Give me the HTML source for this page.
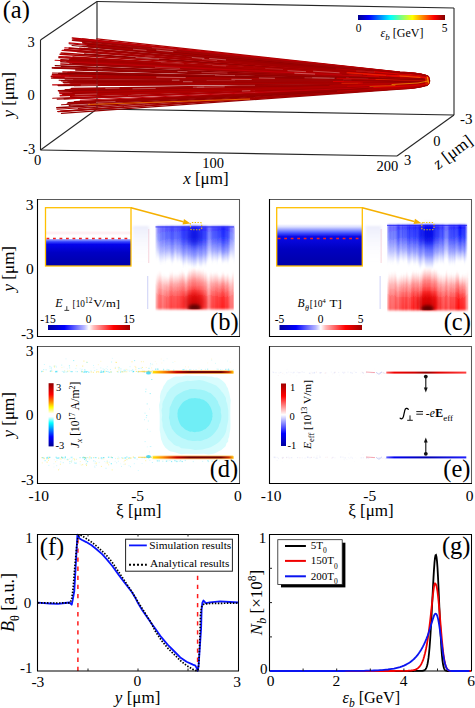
<!DOCTYPE html><html><head><meta charset="utf-8"><style>html,body{margin:0;padding:0;background:#fff;width:475px;height:708px;overflow:hidden}svg{display:block;font-family:"Liberation Serif",serif}</style></head><body><svg width="475" height="708" viewBox="0 0 475 708" font-family="Liberation Serif, serif">
<rect width="475" height="708" fill="#fff"/>
<text x="2.7" y="18" font-size="24.5" text-anchor="start" >(a)</text>
<line x1="40.5" y1="40" x2="40.5" y2="150" stroke="#262626" stroke-width="1.1"/>
<line x1="40.5" y1="40" x2="97" y2="1.5" stroke="#262626" stroke-width="1.1"/>
<line x1="97" y1="1.5" x2="454" y2="8" stroke="#262626" stroke-width="1.1"/>
<line x1="454" y1="8" x2="454" y2="115" stroke="#262626" stroke-width="1.1"/>
<line x1="97" y1="1.5" x2="97" y2="109" stroke="#262626" stroke-width="1.1"/>
<line x1="97" y1="109" x2="454" y2="115" stroke="#262626" stroke-width="1.1"/>
<line x1="40.5" y1="150" x2="97" y2="109" stroke="#262626" stroke-width="1.1"/>
<line x1="40.5" y1="150" x2="397" y2="156" stroke="#262626" stroke-width="1.1"/>
<line x1="397" y1="156" x2="454" y2="115" stroke="#262626" stroke-width="1.1"/>
<g fill="none" stroke-linecap="round"><path d="M70.9,84.1 L400,82.8 Q418.6,82.6 429.3,81.7" stroke="#9a0000" stroke-width="1.67"/><path d="M61.1,53.0 L400,75.9 Q417.9,76.2 427.8,78.1" stroke="#aa0000" stroke-width="1.30"/><path d="M76.1,58.8 L400,77.2 Q417.8,77.4 427.5,78.4" stroke="#a20000" stroke-width="1.11"/><path d="M87.7,45.6 L400,73.8 Q417.5,74.3 426.9,76.9" stroke="#aa0000" stroke-width="1.77"/><path d="M53.9,77.3 L400,81.3 Q418.7,81.3 429.4,80.9" stroke="#aa0000" stroke-width="1.77"/><path d="M58.9,57.6 L400,77.0 Q417.8,77.2 427.5,78.6" stroke="#a20000" stroke-width="1.27"/><path d="M68.0,80.9 L400,82.0 Q417.8,81.9 427.6,81.3" stroke="#9e0404" stroke-width="1.65"/><path d="M72.7,60.1 L400,77.4 Q417.7,77.6 427.4,78.7" stroke="#9a0000" stroke-width="1.76"/><path d="M61.4,66.5 L400,78.9 Q418.1,79.0 428.2,79.6" stroke="#9a0000" stroke-width="1.36"/><path d="M52.6,84.8 L400,83.0 Q417.9,82.8 427.9,81.7" stroke="#c00008" stroke-width="1.28"/><path d="M51.4,76.4 L400,81.2 Q418.5,81.1 429.0,80.7" stroke="#9e0404" stroke-width="1.69"/><path d="M52.3,74.3 L400,80.6 Q418.0,80.6 428.1,80.6" stroke="#a20000" stroke-width="1.25"/><path d="M64.8,47.8 L400,74.7 Q418.1,75.1 428.2,77.4" stroke="#c00008" stroke-width="1.13"/><path d="M79.1,40.0 L400,72.9 Q417.0,73.3 426.1,76.0" stroke="#b00000" stroke-width="1.12"/><path d="M58.2,85.5 L400,83.1 Q417.9,82.9 427.8,81.8" stroke="#920000" stroke-width="1.50"/><path d="M69.1,43.8 L400,73.8 Q418.0,74.3 428.0,76.7" stroke="#8a0000" stroke-width="1.11"/><path d="M63.2,82.2 L400,82.2 Q418.7,82.1 429.3,81.7" stroke="#9e0404" stroke-width="1.38"/><path d="M57.2,99.1 L400,85.9 Q418.3,85.6 428.7,83.6" stroke="#9e0404" stroke-width="1.14"/><path d="M61.7,75.2 L400,80.8 Q417.8,80.8 427.6,80.6" stroke="#9e0404" stroke-width="1.56"/><path d="M70.3,93.4 L400,84.7 Q417.8,84.5 427.6,83.0" stroke="#c00008" stroke-width="1.21"/><path d="M59.5,92.0 L400,84.5 Q417.8,84.2 427.6,82.6" stroke="#9a0000" stroke-width="1.38"/><path d="M60.8,59.6 L400,77.4 Q418.2,77.6 428.3,78.8" stroke="#9e0404" stroke-width="1.28"/><path d="M60.1,93.3 L400,84.8 Q418.4,84.5 428.8,82.8" stroke="#c00008" stroke-width="1.78"/><path d="M52.8,75.2 L400,80.8 Q418.6,80.8 429.2,80.7" stroke="#c00008" stroke-width="1.23"/><path d="M78.0,59.6 L400,77.2 Q417.9,77.4 427.8,78.6" stroke="#9a0000" stroke-width="1.16"/><path d="M69.9,82.5 L400,82.3 Q417.9,82.2 427.8,81.7" stroke="#9a0000" stroke-width="1.79"/><path d="M64.5,49.3 L400,75.2 Q418.3,75.5 428.7,77.3" stroke="#c00008" stroke-width="1.15"/><path d="M73.7,80.1 L400,81.8 Q417.7,81.7 427.5,81.4" stroke="#b00000" stroke-width="1.76"/><path d="M67.9,102.6 L400,86.8 Q418.2,86.4 428.5,84.0" stroke="#8a0000" stroke-width="1.08"/><path d="M79.1,62.5 L400,77.9 Q418.5,78.0 429.0,79.0" stroke="#b00000" stroke-width="1.33"/><path d="M52.7,76.6 L400,81.1 Q418.1,81.1 428.3,80.9" stroke="#c00008" stroke-width="1.77"/><path d="M73.7,81.8 L400,82.2 Q417.7,82.1 427.4,81.5" stroke="#a20000" stroke-width="1.26"/><path d="M72.5,76.5 L400,81.0 Q418.3,81.0 428.6,80.9" stroke="#b00000" stroke-width="1.35"/><path d="M55.3,65.6 L400,78.9 Q418.3,78.9 428.6,79.4" stroke="#8a0000" stroke-width="1.40"/><path d="M66.6,61.5 L400,77.9 Q417.9,78.0 427.9,78.8" stroke="#c00008" stroke-width="1.02"/><path d="M56.9,109.2 L400,88.0 Q417.0,87.5 425.9,84.9" stroke="#b00000" stroke-width="1.01"/><path d="M76.9,58.5 L400,77.1 Q417.8,77.3 427.7,78.3" stroke="#8a0000" stroke-width="1.68"/><path d="M82.5,58.4 L400,76.9 Q418.1,77.1 428.2,78.4" stroke="#a20000" stroke-width="1.01"/><path d="M60.0,90.4 L400,84.0 Q418.3,83.8 428.5,82.7" stroke="#920000" stroke-width="1.03"/><path d="M82.6,39.2 L400,72.6 Q417.2,73.1 426.4,75.8" stroke="#c00008" stroke-width="1.69"/><path d="M68.0,72.7 L400,80.3 Q418.6,80.3 429.3,80.3" stroke="#c00008" stroke-width="1.66"/><path d="M61.4,80.7 L400,82.0 Q418.0,81.9 428.1,81.3" stroke="#920000" stroke-width="1.38"/><path d="M52.4,73.0 L400,80.3 Q418.3,80.3 428.7,80.5" stroke="#9a0000" stroke-width="1.05"/><path d="M55.0,60.3 L400,77.6 Q418.1,77.8 428.1,78.9" stroke="#c00008" stroke-width="1.04"/><path d="M84.7,54.1 L400,75.9 Q418.2,76.2 428.4,77.8" stroke="#920000" stroke-width="1.80"/><path d="M54.3,67.8 L400,79.2 Q418.5,79.3 429.1,79.9" stroke="#a20000" stroke-width="1.50"/><path d="M58.6,56.8 L400,76.9 Q418.0,77.1 428.0,78.4" stroke="#920000" stroke-width="1.01"/><path d="M56.7,107.8 L400,87.8 Q417.7,87.3 427.3,84.7" stroke="#920000" stroke-width="1.45"/><path d="M69.5,59.3 L400,77.4 Q417.8,77.5 427.7,78.5" stroke="#a20000" stroke-width="1.44"/><path d="M64.2,98.8 L400,86.0 Q417.8,85.6 427.6,83.5" stroke="#920000" stroke-width="1.57"/><path d="M69.1,42.8 L400,73.7 Q417.2,74.1 426.4,76.5" stroke="#c00008" stroke-width="1.19"/><path d="M70.2,72.0 L400,80.0 Q417.8,80.1 427.6,80.3" stroke="#b00000" stroke-width="1.04"/><path d="M76.2,91.6 L400,84.3 Q418.0,84.1 428.1,82.9" stroke="#aa0000" stroke-width="1.11"/><path d="M60.8,61.7 L400,77.8 Q418.3,78.0 428.6,79.1" stroke="#9e0404" stroke-width="1.64"/><path d="M58.4,90.8 L400,84.1 Q418.2,83.9 428.4,82.6" stroke="#9e0404" stroke-width="1.41"/><path d="M59.2,80.2 L400,81.9 Q417.8,81.8 427.7,81.2" stroke="#9a0000" stroke-width="1.15"/><path d="M96.7,38.8 L400,72.1 Q416.9,72.6 425.9,75.7" stroke="#b00000" stroke-width="1.26"/><path d="M62.1,50.4 L400,75.5 Q418.3,75.8 428.6,77.5" stroke="#c00008" stroke-width="1.12"/><path d="M74.5,85.7 L400,83.0 Q418.0,82.8 428.0,82.2" stroke="#9e0404" stroke-width="1.25"/><path d="M72.0,45.6 L400,74.2 Q417.9,74.6 427.8,76.8" stroke="#920000" stroke-width="1.03"/><path d="M65.3,80.1 L400,81.9 Q418.6,81.8 429.3,81.2" stroke="#9e0404" stroke-width="1.54"/><path d="M79.7,48.4 L400,74.6 Q418.3,75.0 428.6,77.3" stroke="#b00000" stroke-width="1.58"/><path d="M84.0,48.6 L400,74.5 Q418.2,75.0 428.4,77.3" stroke="#9e0404" stroke-width="1.75"/><path d="M60.1,54.2 L400,76.4 Q418.0,76.6 428.0,78.0" stroke="#aa0000" stroke-width="1.52"/><path d="M74.5,94.0 L400,84.8 Q417.9,84.6 427.9,83.2" stroke="#9a0000" stroke-width="1.70"/><path d="M77.0,51.8 L400,75.5 Q417.6,75.8 427.3,77.6" stroke="#aa0000" stroke-width="1.07"/><path d="M90.3,46.1 L400,74.0 Q417.8,74.4 427.6,76.7" stroke="#aa0000" stroke-width="1.50"/><path d="M72.8,63.1 L400,78.0 Q418.2,78.2 428.4,79.1" stroke="#920000" stroke-width="1.58"/><path d="M76.6,59.6 L400,77.2 Q417.9,77.4 427.7,78.7" stroke="#a20000" stroke-width="1.11"/><path d="M62.3,94.9 L400,85.0 Q417.6,84.7 427.3,83.2" stroke="#a20000" stroke-width="1.38"/><path d="M70.0,98.2 L400,85.9 Q417.7,85.6 427.5,83.4" stroke="#c00008" stroke-width="1.56"/><path d="M74.6,101.9 L400,86.6 Q417.6,86.2 427.2,84.2" stroke="#9a0000" stroke-width="1.72"/><path d="M63.0,94.2 L400,84.9 Q418.3,84.6 428.7,83.0" stroke="#9a0000" stroke-width="1.58"/><path d="M66.0,57.0 L400,76.9 Q417.7,77.1 427.4,78.3" stroke="#a20000" stroke-width="1.25"/><path d="M82.8,42.8 L400,73.4 Q417.0,73.8 426.0,76.3" stroke="#9a0000" stroke-width="1.78"/><path d="M75.6,68.6 L400,79.2 Q417.8,79.3 427.5,79.9" stroke="#b00000" stroke-width="1.10"/><path d="M64.9,90.2 L400,83.9 Q417.8,83.8 427.5,82.7" stroke="#920000" stroke-width="1.36"/><path d="M60.2,95.7 L400,85.1 Q418.4,84.8 428.8,83.3" stroke="#c00008" stroke-width="1.48"/><path d="M64.4,77.8 L400,81.5 Q417.9,81.4 427.7,80.8" stroke="#b00000" stroke-width="1.55"/><path d="M58.8,73.5 L400,80.5 Q418.0,80.5 427.9,80.3" stroke="#8a0000" stroke-width="1.66"/><path d="M69.7,76.0 L400,81.0 Q418.1,81.0 428.2,80.7" stroke="#aa0000" stroke-width="1.65"/><path d="M67.3,104.0 L400,87.0 Q417.5,86.6 426.9,84.4" stroke="#920000" stroke-width="1.67"/><path d="M72.4,38.0 L400,72.4 Q417.5,73.0 427.1,76.1" stroke="#aa0000" stroke-width="1.64"/><path d="M62.8,72.0 L400,80.1 Q417.8,80.1 427.7,80.3" stroke="#aa0000" stroke-width="1.30"/><path d="M70.6,96.4 L400,85.3 Q418.0,85.1 428.1,83.5" stroke="#b00000" stroke-width="1.40"/><path d="M71.6,88.4 L400,83.7 Q418.2,83.5 428.4,82.3" stroke="#9a0000" stroke-width="1.43"/><path d="M70.1,63.8 L400,78.3 Q418.2,78.4 428.4,79.2" stroke="#8a0000" stroke-width="1.23"/><path d="M61.3,60.1 L400,77.6 Q418.3,77.8 428.7,78.6" stroke="#a20000" stroke-width="1.03"/><path d="M70.2,89.3 L400,84.0 Q418.3,83.7 428.5,82.3" stroke="#aa0000" stroke-width="1.39"/><path d="M60.9,64.0 L400,78.3 Q417.9,78.4 427.8,79.5" stroke="#aa0000" stroke-width="1.73"/><path d="M69.5,64.2 L400,78.2 Q418.3,78.4 428.5,79.4" stroke="#9e0404" stroke-width="1.20"/><path d="M71.0,103.2 L400,86.9 Q417.9,86.5 427.9,84.3" stroke="#aa0000" stroke-width="1.52"/><path d="M63.9,84.1 L400,82.8 Q418.1,82.6 428.2,81.7" stroke="#aa0000" stroke-width="1.34"/><path d="M61.5,104.7 L400,87.1 Q417.7,86.7 427.5,84.4" stroke="#9e0404" stroke-width="1.15"/><path d="M52.4,67.9 L400,79.2 Q418.5,79.3 429.0,79.9" stroke="#9e0404" stroke-width="1.58"/><path d="M70.9,61.3 L400,77.8 Q418.6,77.9 429.1,78.8" stroke="#aa0000" stroke-width="1.71"/><path d="M52.7,98.3 L400,85.8 Q418.1,85.4 428.3,83.4" stroke="#a20000" stroke-width="1.07"/><path d="M72.8,92.9 L400,84.8 Q418.3,84.5 428.6,82.8" stroke="#a20000" stroke-width="1.29"/><path d="M64.3,49.9 L400,75.2 Q418.3,75.6 428.7,77.6" stroke="#a20000" stroke-width="1.20"/><path d="M75.8,70.1 L400,79.5 Q418.7,79.6 429.4,80.2" stroke="#920000" stroke-width="1.55"/><path d="M57.6,111.4 L400,88.7 Q417.6,88.1 427.2,84.9" stroke="#8a0000" stroke-width="1.01"/><path d="M61.5,113.4 L400,89.1 Q416.7,88.5 425.4,85.3" stroke="#920000" stroke-width="1.23"/><path d="M65.7,89.9 L400,84.1 Q417.9,83.8 427.8,82.4" stroke="#9e0404" stroke-width="1.75"/><path d="M59.7,56.6 L400,76.9 Q418.6,77.1 429.1,78.3" stroke="#c00008" stroke-width="1.35"/><path d="M88.1,44.2 L400,73.5 Q417.1,74.0 426.2,76.6" stroke="#920000" stroke-width="1.29"/><path d="M80.2,100.3 L400,86.3 Q417.5,86.0 426.9,84.0" stroke="#c00008" stroke-width="1.01"/><path d="M78.2,108.5 L400,88.3 Q417.3,87.7 426.7,84.9" stroke="#9a0000" stroke-width="1.04"/><path d="M67.5,95.1 L400,85.1 Q418.4,84.8 428.8,83.2" stroke="#9a0000" stroke-width="1.17"/><path d="M73.2,91.9 L400,84.5 Q418.0,84.2 428.0,82.6" stroke="#b00000" stroke-width="1.01"/><path d="M69.3,48.1 L400,74.8 Q417.6,75.1 427.1,77.3" stroke="#a20000" stroke-width="1.80"/><path d="M68.8,62.1 L400,77.8 Q418.5,78.0 428.9,79.2" stroke="#c00008" stroke-width="1.06"/><path d="M73.8,38.8 L400,72.6 Q417.5,73.1 426.9,76.0" stroke="#c00008" stroke-width="1.77"/><path d="M88.5,47.1 L400,74.2 Q418.2,74.6 428.4,77.0" stroke="#9a0000" stroke-width="1.01"/><path d="M84.0,42.6 L400,73.2 Q417.4,73.7 426.8,76.5" stroke="#aa0000" stroke-width="1.12"/><path d="M58.3,111.6 L400,88.7 Q416.8,88.1 425.7,85.1" stroke="#b00000" stroke-width="1.30"/><path d="M75.2,72.7 L400,80.2 Q418.0,80.2 428.0,80.3" stroke="#920000" stroke-width="1.21"/><path d="M63.6,90.7 L400,84.1 Q418.3,83.9 428.6,82.7" stroke="#9a0000" stroke-width="1.01"/><path d="M65.2,95.2 L400,85.0 Q417.5,84.8 427.0,83.3" stroke="#b00000" stroke-width="1.71"/><path d="M51.5,78.1 L400,81.4 Q417.9,81.4 427.7,81.1" stroke="#9e0404" stroke-width="1.45"/><path d="M60.5,111.3 L400,88.5 Q417.5,88.0 427.0,85.2" stroke="#a20000" stroke-width="1.52"/><path d="M69.3,105.8 L400,87.5 Q417.9,87.0 427.7,84.6" stroke="#920000" stroke-width="1.36"/><path d="M72.6,40.1 L400,73.0 Q417.7,73.5 427.5,76.1" stroke="#9e0404" stroke-width="1.77"/><path d="M73.0,57.1 L400,76.8 Q418.0,77.0 427.9,78.2" stroke="#aa0000" stroke-width="1.56"/><path d="M76.4,103.5 L400,87.2 Q417.8,86.7 427.7,84.1" stroke="#9a0000" stroke-width="1.72"/><path d="M82.7,46.3 L400,74.1 Q417.8,74.5 427.7,76.9" stroke="#9a0000" stroke-width="1.02"/></g>
<g opacity="0.7"><line x1="135.6" y1="57.5" x2="159.1" y2="59.1" stroke="#e8b0b0" stroke-width="0.7"/><line x1="133.0" y1="49.2" x2="146.5" y2="50.4" stroke="#e09898" stroke-width="0.7"/><line x1="343.3" y1="79.9" x2="351.5" y2="80.0" stroke="#c04040" stroke-width="0.7"/><line x1="356.1" y1="70.7" x2="374.9" y2="72.2" stroke="#e8b0b0" stroke-width="0.7"/><line x1="183.0" y1="81.7" x2="192.5" y2="81.7" stroke="#e8b0b0" stroke-width="0.7"/><line x1="258.9" y1="78.0" x2="274.9" y2="78.3" stroke="#e8b0b0" stroke-width="0.7"/><line x1="202.0" y1="59.4" x2="217.1" y2="60.6" stroke="#d06060" stroke-width="0.7"/><line x1="156.3" y1="77.2" x2="185.7" y2="77.6" stroke="#e8b0b0" stroke-width="0.7"/><line x1="160.8" y1="62.5" x2="183.8" y2="63.8" stroke="#c04040" stroke-width="0.7"/><line x1="196.7" y1="87.3" x2="224.7" y2="86.8" stroke="#e09898" stroke-width="0.7"/><line x1="312.2" y1="77.7" x2="334.9" y2="78.3" stroke="#e8b0b0" stroke-width="0.7"/><line x1="304.5" y1="77.8" x2="329.5" y2="78.3" stroke="#d06060" stroke-width="0.7"/><line x1="87.4" y1="68.4" x2="102.5" y2="68.9" stroke="#d06060" stroke-width="0.7"/><line x1="265.2" y1="68.4" x2="282.9" y2="69.5" stroke="#c04040" stroke-width="0.7"/><line x1="287.5" y1="70.7" x2="306.0" y2="71.7" stroke="#e09898" stroke-width="0.7"/><line x1="346.1" y1="78.2" x2="368.4" y2="78.7" stroke="#e09898" stroke-width="0.7"/><line x1="206.6" y1="80.5" x2="235.1" y2="80.6" stroke="#c04040" stroke-width="0.7"/><line x1="144.7" y1="56.0" x2="154.6" y2="56.7" stroke="#c04040" stroke-width="0.7"/><line x1="80.7" y1="85.1" x2="97.7" y2="85.0" stroke="#e09898" stroke-width="0.7"/><line x1="171.9" y1="80.2" x2="179.5" y2="80.2" stroke="#e8b0b0" stroke-width="0.7"/><line x1="209.2" y1="58.5" x2="226.0" y2="59.9" stroke="#e8b0b0" stroke-width="0.7"/><line x1="127.9" y1="95.5" x2="140.8" y2="95.1" stroke="#c04040" stroke-width="0.7"/><line x1="212.3" y1="65.2" x2="226.1" y2="66.0" stroke="#d06060" stroke-width="0.7"/><line x1="177.5" y1="71.4" x2="187.4" y2="71.7" stroke="#e09898" stroke-width="0.7"/><line x1="74.8" y1="94.7" x2="96.8" y2="94.0" stroke="#e09898" stroke-width="0.7"/><line x1="64.7" y1="77.3" x2="92.5" y2="77.6" stroke="#e09898" stroke-width="0.7"/><line x1="214.9" y1="75.2" x2="235.0" y2="75.6" stroke="#e09898" stroke-width="0.7"/><line x1="294.4" y1="73.2" x2="315.1" y2="74.1" stroke="#e8b0b0" stroke-width="0.7"/><line x1="348.6" y1="74.5" x2="361.8" y2="75.2" stroke="#c04040" stroke-width="0.7"/><line x1="105.3" y1="88.3" x2="119.5" y2="88.0" stroke="#e8b0b0" stroke-width="0.7"/><line x1="154.9" y1="67.3" x2="180.0" y2="68.4" stroke="#d06060" stroke-width="0.7"/><line x1="96.0" y1="102.4" x2="115.5" y2="101.4" stroke="#e09898" stroke-width="0.7"/><line x1="201.5" y1="72.3" x2="227.5" y2="73.1" stroke="#d06060" stroke-width="0.7"/><line x1="241.9" y1="91.0" x2="250.4" y2="90.7" stroke="#e8b0b0" stroke-width="0.7"/><line x1="192.9" y1="87.2" x2="204.2" y2="87.0" stroke="#e09898" stroke-width="0.7"/><line x1="313.1" y1="71.2" x2="339.6" y2="72.8" stroke="#e09898" stroke-width="0.7"/><line x1="156.3" y1="50.1" x2="173.3" y2="51.7" stroke="#e8b0b0" stroke-width="0.7"/><line x1="191.8" y1="57.5" x2="204.3" y2="58.5" stroke="#e8b0b0" stroke-width="0.7"/><line x1="132.5" y1="88.8" x2="155.7" y2="88.4" stroke="#e09898" stroke-width="0.7"/><line x1="231.4" y1="79.3" x2="251.7" y2="79.5" stroke="#e8b0b0" stroke-width="0.7"/><line x1="124.0" y1="106.5" x2="144.9" y2="105.1" stroke="#d06060" stroke-width="0.7"/><line x1="70.4" y1="105.2" x2="90.0" y2="104.1" stroke="#e8b0b0" stroke-width="0.7"/><line x1="151.8" y1="47.6" x2="176.6" y2="50.1" stroke="#d06060" stroke-width="0.7"/></g>
<g fill="none" stroke-linecap="round" opacity="0.8"><path d="M366.1,77.9 L400,79.1 Q417.7,79.2 427.3,79.7" stroke="#900000" stroke-width="0.86"/><path d="M337.5,91.2 L400,87.7 Q416.5,87.2 424.9,84.5" stroke="#c80000" stroke-width="1.11"/><path d="M378.7,71.1 L400,73.2 Q416.7,73.7 425.3,76.4" stroke="#a00000" stroke-width="1.32"/><path d="M334.7,85.2 L400,84.0 Q417.7,83.8 427.5,82.5" stroke="#b80000" stroke-width="0.78"/><path d="M347.6,85.8 L400,84.6 Q417.3,84.3 426.7,82.8" stroke="#e00000" stroke-width="1.32"/><path d="M374.7,76.4 L400,77.7 Q417.7,77.9 427.3,78.9" stroke="#f00000" stroke-width="0.81"/><path d="M347.9,72.4 L400,76.0 Q417.9,76.3 427.9,77.9" stroke="#e80000" stroke-width="1.02"/><path d="M397.6,74.7 L400,74.9 Q417.5,75.3 426.9,77.4" stroke="#ff3000" stroke-width="1.14"/><path d="M341.9,83.3 L400,82.9 Q417.3,82.7 426.6,81.9" stroke="#ff3000" stroke-width="0.82"/><path d="M393.6,80.4 L400,80.5 Q417.6,80.5 427.2,80.5" stroke="#e00000" stroke-width="0.80"/><path d="M363.6,74.6 L400,76.8 Q417.6,77.0 427.2,78.4" stroke="#e80000" stroke-width="1.09"/><path d="M358.5,83.4 L400,83.1 Q418.0,82.9 427.9,82.0" stroke="#d80000" stroke-width="0.91"/><path d="M347.6,69.7 L400,74.2 Q417.0,74.7 426.1,77.0" stroke="#a00000" stroke-width="0.89"/><path d="M373.6,82.6 L400,82.6 Q418.2,82.4 428.3,81.7" stroke="#d00000" stroke-width="1.18"/><path d="M336.5,68.8 L400,74.3 Q417.6,74.7 427.1,77.0" stroke="#b80000" stroke-width="1.29"/><path d="M333.4,81.5 L400,81.8 Q418.2,81.7 428.4,81.2" stroke="#f00000" stroke-width="0.82"/><path d="M382.1,77.0 L400,77.9 Q417.3,78.0 426.5,79.0" stroke="#d80000" stroke-width="1.32"/><path d="M349.9,74.9 L400,77.5 Q417.5,77.7 427.0,78.8" stroke="#f00000" stroke-width="0.74"/><path d="M342.2,74.2 L400,77.3 Q418.1,77.5 428.1,78.7" stroke="#a00000" stroke-width="0.98"/><path d="M334.9,78.2 L400,79.9 Q417.7,79.9 427.3,80.2" stroke="#900000" stroke-width="1.08"/><path d="M376.4,83.1 L400,82.9 Q417.5,82.8 427.0,81.9" stroke="#d80000" stroke-width="1.36"/><path d="M337.0,78.4 L400,80.0 Q418.0,80.0 428.0,80.2" stroke="#d00000" stroke-width="1.13"/><path d="M374.5,71.8 L400,74.0 Q417.3,74.5 426.6,76.9" stroke="#f00000" stroke-width="1.01"/><path d="M367.5,75.0 L400,76.9 Q418.1,77.1 428.1,78.4" stroke="#f00000" stroke-width="0.73"/><path d="M396.7,86.8 L400,86.6 Q416.9,86.2 425.7,83.9" stroke="#c80000" stroke-width="1.14"/><path d="M352.1,89.7 L400,87.2 Q417.4,86.7 426.8,84.3" stroke="#a00000" stroke-width="0.75"/><path d="M388.2,76.8 L400,77.4 Q417.8,77.6 427.5,78.8" stroke="#b80000" stroke-width="1.01"/><path d="M369.0,88.8 L400,87.2 Q417.1,86.7 426.2,84.3" stroke="#b80000" stroke-width="0.82"/><path d="M361.1,82.7 L400,82.6 Q417.6,82.4 427.2,81.7" stroke="#900000" stroke-width="0.77"/><path d="M361.1,81.9 L400,82.0 Q418.2,81.9 428.3,81.4" stroke="#d00000" stroke-width="1.01"/><path d="M347.0,72.8 L400,76.3 Q417.7,76.5 427.3,78.1" stroke="#ff3000" stroke-width="0.88"/><path d="M376.0,79.3 L400,79.9 Q418.0,80.0 428.1,80.2" stroke="#ff3000" stroke-width="0.77"/><path d="M347.1,81.5 L400,81.8 Q417.6,81.7 427.2,81.2" stroke="#e00000" stroke-width="1.08"/><path d="M344.1,80.8 L400,81.4 Q417.3,81.3 426.5,81.0" stroke="#900000" stroke-width="1.11"/><path d="M363.2,82.9 L400,82.7 Q418.1,82.6 428.1,81.8" stroke="#900000" stroke-width="0.90"/><path d="M389.6,77.4 L400,77.8 Q417.3,78.0 426.6,79.0" stroke="#f00000" stroke-width="0.91"/><path d="M382.6,77.7 L400,78.4 Q417.5,78.6 427.0,79.3" stroke="#e80000" stroke-width="1.23"/><path d="M330.1,85.5 L400,84.1 Q418.0,83.9 428.1,82.6" stroke="#b80000" stroke-width="1.37"/><path d="M349.2,77.5 L400,79.2 Q418.1,79.3 428.1,79.8" stroke="#900000" stroke-width="1.17"/><path d="M379.8,77.0 L400,77.9 Q417.7,78.1 427.4,79.1" stroke="#900000" stroke-width="1.25"/><path d="M369.2,69.6 L400,72.7 Q416.8,73.3 425.5,76.1" stroke="#a00000" stroke-width="1.25"/><path d="M386.9,85.2 L400,84.8 Q417.1,84.5 426.1,82.9" stroke="#a00000" stroke-width="0.70"/><path d="M380.1,89.2 L400,88.0 Q416.4,87.5 424.8,84.7" stroke="#c00000" stroke-width="1.30"/><path d="M386.4,75.5 L400,76.3 Q417.7,76.6 427.4,78.1" stroke="#f00000" stroke-width="0.99"/><path d="M373.9,87.4 L400,86.3 Q417.7,85.9 427.4,83.8" stroke="#e80000" stroke-width="1.16"/></g>
<line x1="88" y1="104.5" x2="250" y2="99" stroke="#ff8000" stroke-width="1.1" opacity="0.75"/>
<ellipse cx="427" cy="80.5" rx="2" ry="4.5" fill="#e02000" opacity="0.8"/>
<g stroke-linecap="round" fill="none"><path d="M392,84.5 L418,83 L428,81" stroke="#ffb000" stroke-width="0.8" opacity="0.8"/><path d="M400,76 L420,77.5" stroke="#ff9000" stroke-width="0.7" opacity="0.7"/><path d="M427.5,77.5 L428.5,83" stroke="#ffd000" stroke-width="0.9" opacity="0.8"/><path d="M370,86.5 L395,85.5" stroke="#ffa000" stroke-width="0.7" opacity="0.6"/></g>
<line x1="97" y1="1.5" x2="97" y2="109" stroke="#555" stroke-width="0.7" opacity="0.35"/>
<text x="34.8" y="46.7" font-size="14.5" text-anchor="end" >3</text>
<text x="34.8" y="99.9" font-size="14.5" text-anchor="end" >0</text>
<text x="35.2" y="154" font-size="14.5" text-anchor="end" >-3</text>
<text x="0" y="0" font-size="17" text-anchor="middle" transform="translate(14,94.7) rotate(-90)"><tspan font-style="italic">y</tspan> [μm]</text>
<text x="37.5" y="164.9" font-size="14.5" text-anchor="middle" >0</text>
<text x="213.2" y="168" font-size="14.5" text-anchor="middle" >100</text>
<text x="387.3" y="171.4" font-size="14.5" text-anchor="middle" >200</text>
<text x="205.9" y="184.4" font-size="17" text-anchor="middle" ><tspan font-style="italic">x</tspan> [μm]</text>
<text x="466.3" y="124" font-size="15" text-anchor="middle" >-3</text>
<text x="436.8" y="145.8" font-size="14.5" text-anchor="middle" >0</text>
<text x="407.5" y="165" font-size="14.5" text-anchor="middle" >3</text>
<text x="0" y="0" font-size="17" text-anchor="middle" transform="translate(456,156.5) rotate(-37)"><tspan font-style="italic">z</tspan> [μm]</text>
<defs><linearGradient id="jet" x1="0" x2="1" y1="0" y2="0"><stop offset="0" stop-color="#00008f"/><stop offset="0.125" stop-color="#0000ff"/><stop offset="0.375" stop-color="#00ffff"/><stop offset="0.625" stop-color="#ffff00"/><stop offset="0.875" stop-color="#ff0000"/><stop offset="1" stop-color="#800000"/></linearGradient></defs>
<rect x="358" y="15" width="87" height="5" fill="url(#jet)"/>
<text x="358.6" y="32.4" font-size="11.5" text-anchor="middle" >0</text>
<text x="444.5" y="31.6" font-size="11.5" text-anchor="middle" >5</text>
<text x="402" y="37" font-size="12" text-anchor="middle" ><tspan font-style="italic">ε</tspan><tspan font-style="italic" font-size="9" dy="3">b</tspan><tspan dy="-3"> [GeV]</tspan></text>
<defs>
<filter id="blur3" x="-50%" y="-50%" width="200%" height="200%"><feGaussianBlur stdDeviation="3"/></filter>
<filter id="hblur" x="-10%" y="-10%" width="120%" height="120%"><feGaussianBlur stdDeviation="0.7 1.2"/></filter>
<filter id="blur15" x="-50%" y="-50%" width="200%" height="200%"><feGaussianBlur stdDeviation="1.5"/></filter>
<linearGradient id="gHaze" x1="0" x2="0" y1="0" y2="1"><stop offset="0" stop-color="#c8ccf4"/><stop offset="1" stop-color="#ffffff" stop-opacity="0"/></linearGradient>
<filter id="blur05" x="-50%" y="-50%" width="200%" height="200%"><feGaussianBlur stdDeviation="0.5"/></filter>
<filter id="blur1" x="-50%" y="-50%" width="200%" height="200%"><feGaussianBlur stdDeviation="1"/></filter>
<linearGradient id="gBlue" x1="0" x2="0" y1="0" y2="1"><stop offset="0" stop-color="#0000ff"/><stop offset="0.35" stop-color="#0818ff" stop-opacity="0.9"/><stop offset="0.7" stop-color="#3040ff" stop-opacity="0.5"/><stop offset="1" stop-color="#8090ff" stop-opacity="0"/></linearGradient>
<linearGradient id="gRed" x1="0" x2="0" y1="1" y2="0"><stop offset="0" stop-color="#ff0000"/><stop offset="0.35" stop-color="#ff0808" stop-opacity="0.9"/><stop offset="0.7" stop-color="#ff3030" stop-opacity="0.5"/><stop offset="1" stop-color="#ff8080" stop-opacity="0"/></linearGradient>
<linearGradient id="gInsetB" x1="0" x2="0" y1="0" y2="1"><stop offset="0" stop-color="#b0b8ff"/><stop offset="0.1" stop-color="#3848ff"/><stop offset="0.2" stop-color="#0404ec"/><stop offset="0.5" stop-color="#0000c4"/><stop offset="1" stop-color="#0000a8"/></linearGradient>
<linearGradient id="gInsetC" x1="0" x2="0" y1="0" y2="1"><stop offset="0" stop-color="#ffffff"/><stop offset="0.07" stop-color="#d8dcff"/><stop offset="0.22" stop-color="#4050ff"/><stop offset="0.3" stop-color="#0808e8"/><stop offset="0.6" stop-color="#0000c0"/><stop offset="1" stop-color="#0000a8"/></linearGradient>
<linearGradient id="bwr" x1="0" x2="1" y1="0" y2="0"><stop offset="0" stop-color="#0000a0"/><stop offset="0.2" stop-color="#0000ff"/><stop offset="0.44" stop-color="#b8b8ff"/><stop offset="0.5" stop-color="#ffffff"/><stop offset="0.56" stop-color="#ffb8b8"/><stop offset="0.8" stop-color="#ff0000"/><stop offset="1" stop-color="#a00000"/></linearGradient>
</defs>
<g filter="url(#hblur)"><rect x="155.5" y="226.3" width="1.3" height="34.2" fill="url(#gBlue)" opacity="0.20"/><rect x="156.5" y="226.3" width="1.3" height="33.8" fill="url(#gBlue)" opacity="0.31"/><rect x="157.5" y="226.3" width="1.3" height="32.7" fill="url(#gBlue)" opacity="0.45"/><rect x="158.5" y="226.3" width="1.3" height="36.2" fill="url(#gBlue)" opacity="0.43"/><rect x="159.5" y="226.3" width="1.3" height="38.0" fill="url(#gBlue)" opacity="0.52"/><rect x="160.5" y="226.3" width="1.3" height="37.9" fill="url(#gBlue)" opacity="0.52"/><rect x="161.5" y="226.3" width="1.3" height="36.7" fill="url(#gBlue)" opacity="0.57"/><rect x="162.5" y="226.3" width="1.3" height="37.3" fill="url(#gBlue)" opacity="0.58"/><rect x="163.5" y="226.3" width="1.3" height="34.7" fill="url(#gBlue)" opacity="0.52"/><rect x="164.5" y="226.3" width="1.3" height="37.4" fill="url(#gBlue)" opacity="0.61"/><rect x="165.5" y="226.3" width="1.3" height="35.9" fill="url(#gBlue)" opacity="0.64"/><rect x="166.5" y="226.3" width="1.3" height="35.0" fill="url(#gBlue)" opacity="0.65"/><rect x="167.5" y="226.3" width="1.3" height="35.0" fill="url(#gBlue)" opacity="0.62"/><rect x="168.5" y="226.3" width="1.3" height="34.2" fill="url(#gBlue)" opacity="0.64"/><rect x="169.5" y="226.3" width="1.3" height="35.0" fill="url(#gBlue)" opacity="0.66"/><rect x="170.5" y="226.3" width="1.3" height="36.6" fill="url(#gBlue)" opacity="0.73"/><rect x="171.5" y="226.3" width="1.3" height="38.4" fill="url(#gBlue)" opacity="0.72"/><rect x="172.5" y="226.3" width="1.3" height="37.0" fill="url(#gBlue)" opacity="0.73"/><rect x="173.5" y="226.3" width="1.3" height="36.2" fill="url(#gBlue)" opacity="0.64"/><rect x="174.5" y="226.3" width="1.3" height="33.1" fill="url(#gBlue)" opacity="0.66"/><rect x="175.5" y="226.3" width="1.3" height="34.8" fill="url(#gBlue)" opacity="0.63"/><rect x="176.5" y="226.3" width="1.3" height="36.2" fill="url(#gBlue)" opacity="0.69"/><rect x="177.5" y="226.3" width="1.3" height="36.4" fill="url(#gBlue)" opacity="0.68"/><rect x="178.5" y="226.3" width="1.3" height="34.9" fill="url(#gBlue)" opacity="0.71"/><rect x="179.5" y="226.3" width="1.3" height="36.5" fill="url(#gBlue)" opacity="0.71"/><rect x="180.5" y="226.3" width="1.3" height="36.9" fill="url(#gBlue)" opacity="0.79"/><rect x="181.5" y="226.3" width="1.3" height="37.7" fill="url(#gBlue)" opacity="0.84"/><rect x="182.5" y="226.3" width="1.3" height="41.0" fill="url(#gBlue)" opacity="0.87"/><rect x="183.5" y="226.3" width="1.3" height="39.4" fill="url(#gBlue)" opacity="0.88"/><rect x="184.5" y="226.3" width="1.3" height="39.6" fill="url(#gBlue)" opacity="0.85"/><rect x="185.5" y="226.3" width="1.3" height="37.8" fill="url(#gBlue)" opacity="0.83"/><rect x="186.5" y="226.3" width="1.3" height="38.4" fill="url(#gBlue)" opacity="0.82"/><rect x="187.5" y="226.3" width="1.3" height="39.6" fill="url(#gBlue)" opacity="0.89"/><rect x="188.5" y="226.3" width="1.3" height="40.3" fill="url(#gBlue)" opacity="0.90"/><rect x="189.5" y="226.3" width="1.3" height="39.2" fill="url(#gBlue)" opacity="0.89"/><rect x="190.5" y="226.3" width="1.3" height="41.3" fill="url(#gBlue)" opacity="0.95"/><rect x="191.5" y="226.3" width="1.3" height="40.2" fill="url(#gBlue)" opacity="0.97"/><rect x="192.5" y="226.3" width="1.3" height="41.7" fill="url(#gBlue)" opacity="0.99"/><rect x="193.5" y="226.3" width="1.3" height="41.7" fill="url(#gBlue)" opacity="1.00"/><rect x="194.5" y="226.3" width="1.3" height="41.7" fill="url(#gBlue)" opacity="1.00"/><rect x="195.5" y="226.3" width="1.3" height="40.9" fill="url(#gBlue)" opacity="0.96"/><rect x="196.5" y="226.3" width="1.3" height="39.4" fill="url(#gBlue)" opacity="0.95"/><rect x="197.5" y="226.3" width="1.3" height="38.3" fill="url(#gBlue)" opacity="0.89"/><rect x="198.5" y="226.3" width="1.3" height="40.7" fill="url(#gBlue)" opacity="0.90"/><rect x="199.5" y="226.3" width="1.3" height="41.1" fill="url(#gBlue)" opacity="0.87"/><rect x="200.5" y="226.3" width="1.3" height="41.4" fill="url(#gBlue)" opacity="0.92"/><rect x="201.5" y="226.3" width="1.3" height="40.5" fill="url(#gBlue)" opacity="0.87"/><rect x="202.5" y="226.3" width="1.3" height="39.5" fill="url(#gBlue)" opacity="0.83"/><rect x="203.5" y="226.3" width="1.3" height="38.7" fill="url(#gBlue)" opacity="0.82"/><rect x="204.5" y="226.3" width="1.3" height="40.5" fill="url(#gBlue)" opacity="0.86"/><rect x="205.5" y="226.3" width="1.3" height="39.7" fill="url(#gBlue)" opacity="0.76"/><rect x="206.5" y="226.3" width="1.3" height="37.5" fill="url(#gBlue)" opacity="0.67"/><rect x="207.5" y="226.3" width="1.3" height="35.7" fill="url(#gBlue)" opacity="0.54"/><rect x="208.5" y="226.3" width="1.3" height="34.8" fill="url(#gBlue)" opacity="0.50"/><rect x="209.5" y="226.3" width="1.3" height="33.7" fill="url(#gBlue)" opacity="0.53"/><rect x="210.5" y="226.3" width="1.3" height="35.0" fill="url(#gBlue)" opacity="0.59"/><rect x="211.5" y="226.3" width="1.3" height="37.1" fill="url(#gBlue)" opacity="0.68"/><rect x="212.5" y="226.3" width="1.3" height="36.4" fill="url(#gBlue)" opacity="0.71"/><rect x="213.5" y="226.3" width="1.3" height="34.6" fill="url(#gBlue)" opacity="0.72"/><rect x="214.5" y="226.3" width="1.3" height="36.0" fill="url(#gBlue)" opacity="0.75"/><rect x="215.5" y="226.3" width="1.3" height="35.2" fill="url(#gBlue)" opacity="0.74"/><rect x="216.5" y="226.3" width="1.3" height="37.4" fill="url(#gBlue)" opacity="0.78"/><rect x="217.5" y="226.3" width="1.3" height="35.0" fill="url(#gBlue)" opacity="0.81"/><rect x="218.5" y="226.3" width="1.3" height="34.2" fill="url(#gBlue)" opacity="0.84"/><rect x="219.5" y="226.3" width="1.3" height="33.2" fill="url(#gBlue)" opacity="0.81"/><rect x="220.5" y="226.3" width="1.3" height="34.1" fill="url(#gBlue)" opacity="0.91"/><rect x="221.5" y="226.3" width="1.3" height="37.2" fill="url(#gBlue)" opacity="0.96"/><rect x="222.5" y="226.3" width="1.3" height="37.4" fill="url(#gBlue)" opacity="1.00"/><rect x="223.5" y="226.3" width="1.3" height="36.5" fill="url(#gBlue)" opacity="0.97"/><rect x="224.5" y="226.3" width="1.3" height="36.8" fill="url(#gBlue)" opacity="0.90"/><rect x="225.5" y="226.3" width="1.3" height="35.7" fill="url(#gBlue)" opacity="0.84"/><rect x="226.5" y="226.3" width="1.3" height="37.0" fill="url(#gBlue)" opacity="0.86"/><rect x="227.5" y="226.3" width="1.3" height="37.3" fill="url(#gBlue)" opacity="0.76"/><rect x="228.5" y="226.3" width="1.3" height="34.9" fill="url(#gBlue)" opacity="0.71"/><rect x="229.5" y="226.3" width="1.3" height="33.5" fill="url(#gBlue)" opacity="0.51"/><rect x="230.5" y="226.3" width="1.3" height="32.3" fill="url(#gBlue)" opacity="0.48"/><rect x="231.5" y="226.3" width="1.3" height="33.9" fill="url(#gBlue)" opacity="0.45"/><rect x="232.5" y="226.3" width="1.3" height="34.2" fill="url(#gBlue)" opacity="0.38"/><rect x="233.5" y="226.3" width="1.3" height="37.1" fill="url(#gBlue)" opacity="0.31"/></g>
<ellipse cx="194.5" cy="236.3" rx="7" ry="9" fill="#0000c8" opacity="0.5" filter="url(#blur3)"/>
<rect x="155.5" y="226.3" width="78.5" height="1.2" fill="#0000f0" opacity="0.6"/>
<g filter="url(#hblur)"><rect x="155.5" y="275.1" width="1.3" height="34.2" fill="url(#gRed)" opacity="0.27"/><rect x="156.5" y="272.8" width="1.3" height="36.5" fill="url(#gRed)" opacity="0.35"/><rect x="157.5" y="272.6" width="1.3" height="36.7" fill="url(#gRed)" opacity="0.49"/><rect x="158.5" y="271.4" width="1.3" height="37.9" fill="url(#gRed)" opacity="0.55"/><rect x="159.5" y="271.2" width="1.3" height="38.1" fill="url(#gRed)" opacity="0.58"/><rect x="160.5" y="272.3" width="1.3" height="37.0" fill="url(#gRed)" opacity="0.58"/><rect x="161.5" y="274.2" width="1.3" height="35.1" fill="url(#gRed)" opacity="0.49"/><rect x="162.5" y="274.5" width="1.3" height="34.8" fill="url(#gRed)" opacity="0.48"/><rect x="163.5" y="274.7" width="1.3" height="34.6" fill="url(#gRed)" opacity="0.56"/><rect x="164.5" y="274.7" width="1.3" height="34.6" fill="url(#gRed)" opacity="0.53"/><rect x="165.5" y="275.4" width="1.3" height="33.9" fill="url(#gRed)" opacity="0.63"/><rect x="166.5" y="275.3" width="1.3" height="34.0" fill="url(#gRed)" opacity="0.60"/><rect x="167.5" y="275.9" width="1.3" height="33.4" fill="url(#gRed)" opacity="0.60"/><rect x="168.5" y="274.7" width="1.3" height="34.6" fill="url(#gRed)" opacity="0.65"/><rect x="169.5" y="272.0" width="1.3" height="37.3" fill="url(#gRed)" opacity="0.71"/><rect x="170.5" y="272.6" width="1.3" height="36.7" fill="url(#gRed)" opacity="0.76"/><rect x="171.5" y="270.7" width="1.3" height="38.6" fill="url(#gRed)" opacity="0.71"/><rect x="172.5" y="273.8" width="1.3" height="35.5" fill="url(#gRed)" opacity="0.71"/><rect x="173.5" y="273.9" width="1.3" height="35.4" fill="url(#gRed)" opacity="0.71"/><rect x="174.5" y="273.0" width="1.3" height="36.3" fill="url(#gRed)" opacity="0.69"/><rect x="175.5" y="273.4" width="1.3" height="35.9" fill="url(#gRed)" opacity="0.69"/><rect x="176.5" y="273.2" width="1.3" height="36.1" fill="url(#gRed)" opacity="0.76"/><rect x="177.5" y="273.5" width="1.3" height="35.8" fill="url(#gRed)" opacity="0.75"/><rect x="178.5" y="272.3" width="1.3" height="37.0" fill="url(#gRed)" opacity="0.74"/><rect x="179.5" y="271.6" width="1.3" height="37.7" fill="url(#gRed)" opacity="0.78"/><rect x="180.5" y="271.9" width="1.3" height="37.4" fill="url(#gRed)" opacity="0.80"/><rect x="181.5" y="269.9" width="1.3" height="39.4" fill="url(#gRed)" opacity="0.82"/><rect x="182.5" y="271.2" width="1.3" height="38.1" fill="url(#gRed)" opacity="0.85"/><rect x="183.5" y="271.4" width="1.3" height="37.9" fill="url(#gRed)" opacity="0.83"/><rect x="184.5" y="273.6" width="1.3" height="35.7" fill="url(#gRed)" opacity="0.77"/><rect x="185.5" y="274.2" width="1.3" height="35.1" fill="url(#gRed)" opacity="0.73"/><rect x="186.5" y="272.4" width="1.3" height="36.9" fill="url(#gRed)" opacity="0.78"/><rect x="187.5" y="270.7" width="1.3" height="38.6" fill="url(#gRed)" opacity="0.84"/><rect x="188.5" y="268.7" width="1.3" height="40.6" fill="url(#gRed)" opacity="0.91"/><rect x="189.5" y="269.7" width="1.3" height="39.6" fill="url(#gRed)" opacity="0.88"/><rect x="190.5" y="268.4" width="1.3" height="40.9" fill="url(#gRed)" opacity="0.92"/><rect x="191.5" y="268.1" width="1.3" height="41.2" fill="url(#gRed)" opacity="1.00"/><rect x="192.5" y="267.5" width="1.3" height="41.8" fill="url(#gRed)" opacity="1.00"/><rect x="193.5" y="267.5" width="1.3" height="41.8" fill="url(#gRed)" opacity="1.00"/><rect x="194.5" y="267.5" width="1.3" height="41.8" fill="url(#gRed)" opacity="1.00"/><rect x="195.5" y="268.7" width="1.3" height="40.6" fill="url(#gRed)" opacity="0.99"/><rect x="196.5" y="269.1" width="1.3" height="40.2" fill="url(#gRed)" opacity="0.94"/><rect x="197.5" y="268.4" width="1.3" height="40.9" fill="url(#gRed)" opacity="0.94"/><rect x="198.5" y="268.9" width="1.3" height="40.4" fill="url(#gRed)" opacity="0.94"/><rect x="199.5" y="268.9" width="1.3" height="40.4" fill="url(#gRed)" opacity="0.90"/><rect x="200.5" y="269.3" width="1.3" height="40.0" fill="url(#gRed)" opacity="0.89"/><rect x="201.5" y="270.0" width="1.3" height="39.3" fill="url(#gRed)" opacity="0.86"/><rect x="202.5" y="269.2" width="1.3" height="40.1" fill="url(#gRed)" opacity="0.82"/><rect x="203.5" y="271.4" width="1.3" height="37.9" fill="url(#gRed)" opacity="0.77"/><rect x="204.5" y="270.8" width="1.3" height="38.5" fill="url(#gRed)" opacity="0.75"/><rect x="205.5" y="271.5" width="1.3" height="37.8" fill="url(#gRed)" opacity="0.70"/><rect x="206.5" y="273.0" width="1.3" height="36.3" fill="url(#gRed)" opacity="0.57"/><rect x="207.5" y="274.5" width="1.3" height="34.8" fill="url(#gRed)" opacity="0.45"/><rect x="208.5" y="274.0" width="1.3" height="35.3" fill="url(#gRed)" opacity="0.46"/><rect x="209.5" y="272.3" width="1.3" height="37.0" fill="url(#gRed)" opacity="0.52"/><rect x="210.5" y="271.1" width="1.3" height="38.2" fill="url(#gRed)" opacity="0.67"/><rect x="211.5" y="273.0" width="1.3" height="36.3" fill="url(#gRed)" opacity="0.71"/><rect x="212.5" y="272.7" width="1.3" height="36.6" fill="url(#gRed)" opacity="0.76"/><rect x="213.5" y="272.2" width="1.3" height="37.1" fill="url(#gRed)" opacity="0.71"/><rect x="214.5" y="271.8" width="1.3" height="37.5" fill="url(#gRed)" opacity="0.79"/><rect x="215.5" y="272.2" width="1.3" height="37.1" fill="url(#gRed)" opacity="0.80"/><rect x="216.5" y="272.0" width="1.3" height="37.3" fill="url(#gRed)" opacity="0.85"/><rect x="217.5" y="273.6" width="1.3" height="35.7" fill="url(#gRed)" opacity="0.80"/><rect x="218.5" y="274.3" width="1.3" height="35.0" fill="url(#gRed)" opacity="0.84"/><rect x="219.5" y="275.0" width="1.3" height="34.3" fill="url(#gRed)" opacity="0.86"/><rect x="220.5" y="274.2" width="1.3" height="35.1" fill="url(#gRed)" opacity="0.92"/><rect x="221.5" y="272.5" width="1.3" height="36.8" fill="url(#gRed)" opacity="0.96"/><rect x="222.5" y="271.9" width="1.3" height="37.4" fill="url(#gRed)" opacity="0.94"/><rect x="223.5" y="273.0" width="1.3" height="36.3" fill="url(#gRed)" opacity="0.93"/><rect x="224.5" y="274.4" width="1.3" height="34.9" fill="url(#gRed)" opacity="0.81"/><rect x="225.5" y="274.9" width="1.3" height="34.4" fill="url(#gRed)" opacity="0.81"/><rect x="226.5" y="272.8" width="1.3" height="36.5" fill="url(#gRed)" opacity="0.82"/><rect x="227.5" y="273.1" width="1.3" height="36.2" fill="url(#gRed)" opacity="0.73"/><rect x="228.5" y="275.4" width="1.3" height="33.9" fill="url(#gRed)" opacity="0.61"/><rect x="229.5" y="275.0" width="1.3" height="34.3" fill="url(#gRed)" opacity="0.53"/><rect x="230.5" y="276.5" width="1.3" height="32.8" fill="url(#gRed)" opacity="0.50"/><rect x="231.5" y="272.6" width="1.3" height="36.7" fill="url(#gRed)" opacity="0.51"/><rect x="232.5" y="270.6" width="1.3" height="38.7" fill="url(#gRed)" opacity="0.48"/></g>
<clipPath id="clipR1"><rect x="155.5" y="267.5" width="77.1" height="41.80000000000001"/></clipPath>
<g clip-path="url(#clipR1)">
<ellipse cx="194.5" cy="300.3" rx="9" ry="9" fill="#e00000" opacity="0.5" filter="url(#blur3)"/>
<ellipse cx="194.5" cy="303.3" rx="9" ry="8" fill="#b00000" opacity="0.45" filter="url(#blur3)"/>
<ellipse cx="194.5" cy="307.8" rx="6.5" ry="3.5" fill="#300000" opacity="0.7" filter="url(#blur15)"/>
</g>
<rect x="148" y="229" width="1.3" height="34" fill="#f0a0b0" opacity="0.35" filter="url(#blur05)"/>
<rect x="133" y="226" width="16" height="40" fill="url(#gHaze)" opacity="0.35" filter="url(#blur1)"/>
<rect x="147" y="276" width="1.3" height="33" fill="#a0a8f0" opacity="0.4" filter="url(#blur05)"/>
<rect x="45.5" y="207.7" width="85.5" height="58.30000000000001" fill="#fff"/>
<rect x="45.5" y="231.5" width="85.5" height="3" fill="#fce0e6" opacity="0.45"/>
<rect x="45.5" y="239" width="85.5" height="27" fill="url(#gInsetB)"/>
<line x1="46.5" y1="238.5" x2="130" y2="238.5" stroke="#f02020" stroke-width="1.3" stroke-dasharray="2.8,3.7"/>
<rect x="45.5" y="207.7" width="85.5" height="58.30000000000001" fill="none" stroke="#ffc000" stroke-width="1.3"/>
<line x1="131" y1="207.7" x2="183.3" y2="221.7" stroke="#f5b000" stroke-width="1.6"/>
<path d="M190.5,223.6 L182.5,224.4 L184.0,219.0 Z" fill="#f5b000"/>
<rect x="190.4" y="222.5" width="11.3" height="7.2" rx="1.5" fill="none" stroke="#f0c000" stroke-width="1.1" stroke-dasharray="1.3,1.5"/>
<path d="M37.0,199.5 H239.5 V336.5" fill="none" stroke="#5a5a5a" stroke-width="1.05"/>
<path d="M37.5,199.0 V336.5 H240.0" fill="none" stroke="#000" stroke-width="1.1"/>
<rect x="48" y="325" width="82" height="5" fill="url(#bwr)"/>
<text x="48" y="322.5" font-size="11.5" text-anchor="middle" >-15</text>
<text x="88.5" y="322.5" font-size="11.5" text-anchor="middle" >0</text>
<text x="129" y="322.5" font-size="11.5" text-anchor="middle" >15</text>
<text x="55.3" y="307.3" font-size="12" font-style="italic">E</text><path d="M66.8,306.2 V310.2 M64.4,310.4 H69.2" stroke="#000" stroke-width="0.75" fill="none"/><text x="72.6" y="307.3" font-size="10.8" textLength="12.4" lengthAdjust="spacingAndGlyphs">[10</text><text x="85" y="302.8" font-size="7.2" textLength="7.4" lengthAdjust="spacingAndGlyphs">12</text><text x="93.2" y="307.3" font-size="10.8" textLength="26.8" lengthAdjust="spacingAndGlyphs">V/m]</text>
<text x="224.4" y="330" font-size="24.5" text-anchor="middle" >(b)</text>
<text x="33.6" y="209.6" font-size="15.5" text-anchor="end" >3</text>
<text x="33.8" y="273.6" font-size="15.5" text-anchor="end" >0</text>
<text x="33.8" y="338.5" font-size="15.5" text-anchor="end" >-3</text>
<text x="0" y="0" font-size="17" text-anchor="middle" transform="translate(13.6,268.7) rotate(-90)"><tspan font-style="italic">y</tspan> [μm]</text>
<g filter="url(#hblur)"><rect x="387.0" y="224.8" width="1.3" height="40.0" fill="url(#gBlue)" opacity="0.29"/><rect x="388.0" y="224.8" width="1.3" height="38.7" fill="url(#gBlue)" opacity="0.43"/><rect x="389.0" y="224.8" width="1.3" height="38.2" fill="url(#gBlue)" opacity="0.50"/><rect x="390.0" y="224.8" width="1.3" height="38.7" fill="url(#gBlue)" opacity="0.52"/><rect x="391.0" y="224.8" width="1.3" height="38.8" fill="url(#gBlue)" opacity="0.49"/><rect x="392.0" y="224.8" width="1.3" height="39.2" fill="url(#gBlue)" opacity="0.49"/><rect x="393.0" y="224.8" width="1.3" height="38.7" fill="url(#gBlue)" opacity="0.52"/><rect x="394.0" y="224.8" width="1.3" height="36.9" fill="url(#gBlue)" opacity="0.49"/><rect x="395.0" y="224.8" width="1.3" height="36.6" fill="url(#gBlue)" opacity="0.52"/><rect x="396.0" y="224.8" width="1.3" height="39.4" fill="url(#gBlue)" opacity="0.58"/><rect x="397.0" y="224.8" width="1.3" height="40.1" fill="url(#gBlue)" opacity="0.67"/><rect x="398.0" y="224.8" width="1.3" height="39.8" fill="url(#gBlue)" opacity="0.72"/><rect x="399.0" y="224.8" width="1.3" height="37.3" fill="url(#gBlue)" opacity="0.66"/><rect x="400.0" y="224.8" width="1.3" height="36.2" fill="url(#gBlue)" opacity="0.59"/><rect x="401.0" y="224.8" width="1.3" height="36.5" fill="url(#gBlue)" opacity="0.60"/><rect x="402.0" y="224.8" width="1.3" height="37.4" fill="url(#gBlue)" opacity="0.69"/><rect x="403.0" y="224.8" width="1.3" height="38.0" fill="url(#gBlue)" opacity="0.63"/><rect x="404.0" y="224.8" width="1.3" height="36.9" fill="url(#gBlue)" opacity="0.66"/><rect x="405.0" y="224.8" width="1.3" height="36.6" fill="url(#gBlue)" opacity="0.66"/><rect x="406.0" y="224.8" width="1.3" height="36.4" fill="url(#gBlue)" opacity="0.68"/><rect x="407.0" y="224.8" width="1.3" height="40.0" fill="url(#gBlue)" opacity="0.76"/><rect x="408.0" y="224.8" width="1.3" height="41.2" fill="url(#gBlue)" opacity="0.75"/><rect x="409.0" y="224.8" width="1.3" height="40.6" fill="url(#gBlue)" opacity="0.81"/><rect x="410.0" y="224.8" width="1.3" height="39.6" fill="url(#gBlue)" opacity="0.76"/><rect x="411.0" y="224.8" width="1.3" height="38.4" fill="url(#gBlue)" opacity="0.76"/><rect x="412.0" y="224.8" width="1.3" height="38.0" fill="url(#gBlue)" opacity="0.76"/><rect x="413.0" y="224.8" width="1.3" height="40.2" fill="url(#gBlue)" opacity="0.80"/><rect x="414.0" y="224.8" width="1.3" height="40.0" fill="url(#gBlue)" opacity="0.79"/><rect x="415.0" y="224.8" width="1.3" height="40.2" fill="url(#gBlue)" opacity="0.82"/><rect x="416.0" y="224.8" width="1.3" height="38.4" fill="url(#gBlue)" opacity="0.77"/><rect x="417.0" y="224.8" width="1.3" height="40.1" fill="url(#gBlue)" opacity="0.76"/><rect x="418.0" y="224.8" width="1.3" height="42.2" fill="url(#gBlue)" opacity="0.80"/><rect x="419.0" y="224.8" width="1.3" height="43.9" fill="url(#gBlue)" opacity="0.86"/><rect x="420.0" y="224.8" width="1.3" height="44.2" fill="url(#gBlue)" opacity="0.89"/><rect x="421.0" y="224.8" width="1.3" height="42.2" fill="url(#gBlue)" opacity="0.90"/><rect x="422.0" y="224.8" width="1.3" height="41.3" fill="url(#gBlue)" opacity="0.86"/><rect x="423.0" y="224.8" width="1.3" height="40.2" fill="url(#gBlue)" opacity="0.87"/><rect x="424.0" y="224.8" width="1.3" height="41.9" fill="url(#gBlue)" opacity="0.90"/><rect x="425.0" y="224.8" width="1.3" height="43.6" fill="url(#gBlue)" opacity="1.00"/><rect x="426.0" y="224.8" width="1.3" height="44.2" fill="url(#gBlue)" opacity="0.97"/><rect x="427.0" y="224.8" width="1.3" height="44.2" fill="url(#gBlue)" opacity="1.00"/><rect x="428.0" y="224.8" width="1.3" height="44.2" fill="url(#gBlue)" opacity="0.98"/><rect x="429.0" y="224.8" width="1.3" height="44.2" fill="url(#gBlue)" opacity="1.00"/><rect x="430.0" y="224.8" width="1.3" height="44.2" fill="url(#gBlue)" opacity="1.00"/><rect x="431.0" y="224.8" width="1.3" height="44.2" fill="url(#gBlue)" opacity="1.00"/><rect x="432.0" y="224.8" width="1.3" height="44.2" fill="url(#gBlue)" opacity="0.98"/><rect x="433.0" y="224.8" width="1.3" height="41.4" fill="url(#gBlue)" opacity="0.86"/><rect x="434.0" y="224.8" width="1.3" height="40.3" fill="url(#gBlue)" opacity="0.84"/><rect x="435.0" y="224.8" width="1.3" height="39.0" fill="url(#gBlue)" opacity="0.80"/><rect x="436.0" y="224.8" width="1.3" height="39.8" fill="url(#gBlue)" opacity="0.78"/><rect x="437.0" y="224.8" width="1.3" height="39.4" fill="url(#gBlue)" opacity="0.79"/><rect x="438.0" y="224.8" width="1.3" height="38.3" fill="url(#gBlue)" opacity="0.78"/><rect x="439.0" y="224.8" width="1.3" height="37.4" fill="url(#gBlue)" opacity="0.72"/><rect x="440.0" y="224.8" width="1.3" height="39.4" fill="url(#gBlue)" opacity="0.69"/><rect x="441.0" y="224.8" width="1.3" height="38.5" fill="url(#gBlue)" opacity="0.70"/><rect x="442.0" y="224.8" width="1.3" height="39.3" fill="url(#gBlue)" opacity="0.75"/><rect x="443.0" y="224.8" width="1.3" height="39.9" fill="url(#gBlue)" opacity="0.65"/><rect x="444.0" y="224.8" width="1.3" height="35.6" fill="url(#gBlue)" opacity="0.57"/><rect x="445.0" y="224.8" width="1.3" height="36.0" fill="url(#gBlue)" opacity="0.50"/><rect x="446.0" y="224.8" width="1.3" height="35.2" fill="url(#gBlue)" opacity="0.51"/><rect x="447.0" y="224.8" width="1.3" height="36.6" fill="url(#gBlue)" opacity="0.53"/><rect x="448.0" y="224.8" width="1.3" height="39.9" fill="url(#gBlue)" opacity="0.63"/><rect x="449.0" y="224.8" width="1.3" height="40.5" fill="url(#gBlue)" opacity="0.71"/><rect x="450.0" y="224.8" width="1.3" height="40.1" fill="url(#gBlue)" opacity="0.73"/><rect x="451.0" y="224.8" width="1.3" height="39.1" fill="url(#gBlue)" opacity="0.75"/><rect x="452.0" y="224.8" width="1.3" height="40.3" fill="url(#gBlue)" opacity="0.74"/><rect x="453.0" y="224.8" width="1.3" height="39.2" fill="url(#gBlue)" opacity="0.78"/><rect x="454.0" y="224.8" width="1.3" height="40.5" fill="url(#gBlue)" opacity="0.78"/><rect x="455.0" y="224.8" width="1.3" height="37.9" fill="url(#gBlue)" opacity="0.73"/><rect x="456.0" y="224.8" width="1.3" height="36.0" fill="url(#gBlue)" opacity="0.74"/><rect x="457.0" y="224.8" width="1.3" height="36.9" fill="url(#gBlue)" opacity="0.77"/><rect x="458.0" y="224.8" width="1.3" height="37.1" fill="url(#gBlue)" opacity="0.86"/><rect x="459.0" y="224.8" width="1.3" height="36.8" fill="url(#gBlue)" opacity="0.94"/><rect x="460.0" y="224.8" width="1.3" height="37.4" fill="url(#gBlue)" opacity="0.96"/><rect x="461.0" y="224.8" width="1.3" height="36.5" fill="url(#gBlue)" opacity="0.87"/><rect x="462.0" y="224.8" width="1.3" height="36.2" fill="url(#gBlue)" opacity="0.82"/><rect x="463.0" y="224.8" width="1.3" height="37.7" fill="url(#gBlue)" opacity="0.82"/><rect x="464.0" y="224.8" width="1.3" height="39.7" fill="url(#gBlue)" opacity="0.82"/><rect x="465.0" y="224.8" width="1.3" height="37.8" fill="url(#gBlue)" opacity="0.61"/><rect x="466.0" y="224.8" width="1.3" height="36.9" fill="url(#gBlue)" opacity="0.34"/></g>
<ellipse cx="427.5" cy="234.8" rx="7" ry="9" fill="#0000c8" opacity="0.5" filter="url(#blur3)"/>
<rect x="387" y="224.8" width="80" height="1.2" fill="#0000f0" opacity="0.6"/>
<g filter="url(#hblur)"><rect x="387.0" y="276.4" width="1.3" height="33.9" fill="url(#gRed)" opacity="0.26"/><rect x="388.0" y="272.6" width="1.3" height="37.7" fill="url(#gRed)" opacity="0.40"/><rect x="389.0" y="272.2" width="1.3" height="38.1" fill="url(#gRed)" opacity="0.52"/><rect x="390.0" y="273.2" width="1.3" height="37.1" fill="url(#gRed)" opacity="0.55"/><rect x="391.0" y="271.9" width="1.3" height="38.4" fill="url(#gRed)" opacity="0.51"/><rect x="392.0" y="271.9" width="1.3" height="38.4" fill="url(#gRed)" opacity="0.51"/><rect x="393.0" y="272.5" width="1.3" height="37.8" fill="url(#gRed)" opacity="0.52"/><rect x="394.0" y="271.4" width="1.3" height="38.9" fill="url(#gRed)" opacity="0.55"/><rect x="395.0" y="271.9" width="1.3" height="38.4" fill="url(#gRed)" opacity="0.62"/><rect x="396.0" y="274.3" width="1.3" height="36.0" fill="url(#gRed)" opacity="0.58"/><rect x="397.0" y="276.8" width="1.3" height="33.5" fill="url(#gRed)" opacity="0.55"/><rect x="398.0" y="275.6" width="1.3" height="34.7" fill="url(#gRed)" opacity="0.53"/><rect x="399.0" y="275.2" width="1.3" height="35.1" fill="url(#gRed)" opacity="0.62"/><rect x="400.0" y="274.3" width="1.3" height="36.0" fill="url(#gRed)" opacity="0.63"/><rect x="401.0" y="273.8" width="1.3" height="36.5" fill="url(#gRed)" opacity="0.67"/><rect x="402.0" y="274.5" width="1.3" height="35.8" fill="url(#gRed)" opacity="0.71"/><rect x="403.0" y="273.1" width="1.3" height="37.2" fill="url(#gRed)" opacity="0.71"/><rect x="404.0" y="273.8" width="1.3" height="36.5" fill="url(#gRed)" opacity="0.66"/><rect x="405.0" y="273.9" width="1.3" height="36.4" fill="url(#gRed)" opacity="0.73"/><rect x="406.0" y="271.4" width="1.3" height="38.9" fill="url(#gRed)" opacity="0.73"/><rect x="407.0" y="273.2" width="1.3" height="37.1" fill="url(#gRed)" opacity="0.67"/><rect x="408.0" y="274.4" width="1.3" height="35.9" fill="url(#gRed)" opacity="0.63"/><rect x="409.0" y="275.4" width="1.3" height="34.9" fill="url(#gRed)" opacity="0.69"/><rect x="410.0" y="274.3" width="1.3" height="36.0" fill="url(#gRed)" opacity="0.68"/><rect x="411.0" y="272.6" width="1.3" height="37.7" fill="url(#gRed)" opacity="0.79"/><rect x="412.0" y="270.5" width="1.3" height="39.8" fill="url(#gRed)" opacity="0.79"/><rect x="413.0" y="271.1" width="1.3" height="39.2" fill="url(#gRed)" opacity="0.85"/><rect x="414.0" y="271.3" width="1.3" height="39.0" fill="url(#gRed)" opacity="0.79"/><rect x="415.0" y="271.6" width="1.3" height="38.7" fill="url(#gRed)" opacity="0.76"/><rect x="416.0" y="271.0" width="1.3" height="39.3" fill="url(#gRed)" opacity="0.78"/><rect x="417.0" y="272.2" width="1.3" height="38.1" fill="url(#gRed)" opacity="0.85"/><rect x="418.0" y="271.4" width="1.3" height="38.9" fill="url(#gRed)" opacity="0.79"/><rect x="419.0" y="273.3" width="1.3" height="37.0" fill="url(#gRed)" opacity="0.72"/><rect x="420.0" y="271.5" width="1.3" height="38.8" fill="url(#gRed)" opacity="0.80"/><rect x="421.0" y="270.8" width="1.3" height="39.5" fill="url(#gRed)" opacity="0.79"/><rect x="422.0" y="269.6" width="1.3" height="40.7" fill="url(#gRed)" opacity="0.95"/><rect x="423.0" y="268.4" width="1.3" height="41.9" fill="url(#gRed)" opacity="1.00"/><rect x="424.0" y="267.5" width="1.3" height="42.8" fill="url(#gRed)" opacity="1.00"/><rect x="425.0" y="267.5" width="1.3" height="42.8" fill="url(#gRed)" opacity="1.00"/><rect x="426.0" y="268.0" width="1.3" height="42.3" fill="url(#gRed)" opacity="0.98"/><rect x="427.0" y="267.5" width="1.3" height="42.8" fill="url(#gRed)" opacity="1.00"/><rect x="428.0" y="267.5" width="1.3" height="42.8" fill="url(#gRed)" opacity="1.00"/><rect x="429.0" y="267.5" width="1.3" height="42.8" fill="url(#gRed)" opacity="1.00"/><rect x="430.0" y="267.6" width="1.3" height="42.7" fill="url(#gRed)" opacity="0.93"/><rect x="431.0" y="269.6" width="1.3" height="40.7" fill="url(#gRed)" opacity="0.90"/><rect x="432.0" y="269.4" width="1.3" height="40.9" fill="url(#gRed)" opacity="0.88"/><rect x="433.0" y="269.2" width="1.3" height="41.1" fill="url(#gRed)" opacity="0.91"/><rect x="434.0" y="268.6" width="1.3" height="41.7" fill="url(#gRed)" opacity="0.93"/><rect x="435.0" y="269.7" width="1.3" height="40.6" fill="url(#gRed)" opacity="0.90"/><rect x="436.0" y="269.7" width="1.3" height="40.6" fill="url(#gRed)" opacity="0.83"/><rect x="437.0" y="271.8" width="1.3" height="38.5" fill="url(#gRed)" opacity="0.73"/><rect x="438.0" y="272.5" width="1.3" height="37.8" fill="url(#gRed)" opacity="0.68"/><rect x="439.0" y="273.8" width="1.3" height="36.5" fill="url(#gRed)" opacity="0.69"/><rect x="440.0" y="273.6" width="1.3" height="36.7" fill="url(#gRed)" opacity="0.73"/><rect x="441.0" y="273.4" width="1.3" height="36.9" fill="url(#gRed)" opacity="0.65"/><rect x="442.0" y="274.6" width="1.3" height="35.7" fill="url(#gRed)" opacity="0.62"/><rect x="443.0" y="273.8" width="1.3" height="36.5" fill="url(#gRed)" opacity="0.60"/><rect x="444.0" y="274.1" width="1.3" height="36.2" fill="url(#gRed)" opacity="0.64"/><rect x="445.0" y="272.1" width="1.3" height="38.2" fill="url(#gRed)" opacity="0.70"/><rect x="446.0" y="269.6" width="1.3" height="40.7" fill="url(#gRed)" opacity="0.67"/><rect x="447.0" y="273.2" width="1.3" height="37.1" fill="url(#gRed)" opacity="0.61"/><rect x="448.0" y="274.0" width="1.3" height="36.3" fill="url(#gRed)" opacity="0.57"/><rect x="449.0" y="273.4" width="1.3" height="36.9" fill="url(#gRed)" opacity="0.63"/><rect x="450.0" y="273.6" width="1.3" height="36.7" fill="url(#gRed)" opacity="0.72"/><rect x="451.0" y="272.7" width="1.3" height="37.6" fill="url(#gRed)" opacity="0.69"/><rect x="452.0" y="274.3" width="1.3" height="36.0" fill="url(#gRed)" opacity="0.69"/><rect x="453.0" y="273.6" width="1.3" height="36.7" fill="url(#gRed)" opacity="0.70"/><rect x="454.0" y="274.4" width="1.3" height="35.9" fill="url(#gRed)" opacity="0.68"/><rect x="455.0" y="272.7" width="1.3" height="37.6" fill="url(#gRed)" opacity="0.79"/><rect x="456.0" y="271.1" width="1.3" height="39.2" fill="url(#gRed)" opacity="0.85"/><rect x="457.0" y="271.4" width="1.3" height="38.9" fill="url(#gRed)" opacity="0.89"/><rect x="458.0" y="272.2" width="1.3" height="38.1" fill="url(#gRed)" opacity="0.95"/><rect x="459.0" y="276.0" width="1.3" height="34.3" fill="url(#gRed)" opacity="0.89"/><rect x="460.0" y="275.8" width="1.3" height="34.5" fill="url(#gRed)" opacity="0.83"/><rect x="461.0" y="275.1" width="1.3" height="35.2" fill="url(#gRed)" opacity="0.83"/><rect x="462.0" y="273.7" width="1.3" height="36.6" fill="url(#gRed)" opacity="0.81"/><rect x="463.0" y="275.2" width="1.3" height="35.1" fill="url(#gRed)" opacity="0.78"/><rect x="464.0" y="274.2" width="1.3" height="36.1" fill="url(#gRed)" opacity="0.73"/><rect x="465.0" y="274.2" width="1.3" height="36.1" fill="url(#gRed)" opacity="0.54"/><rect x="466.0" y="272.9" width="1.3" height="37.4" fill="url(#gRed)" opacity="0.35"/><rect x="467.0" y="271.2" width="1.3" height="39.1" fill="url(#gRed)" opacity="0.29"/></g>
<clipPath id="clipR2"><rect x="387" y="267.5" width="81" height="42.80000000000001"/></clipPath>
<g clip-path="url(#clipR2)">
<ellipse cx="427.5" cy="301.3" rx="9" ry="9" fill="#e00000" opacity="0.5" filter="url(#blur3)"/>
<ellipse cx="427.5" cy="304.3" rx="9" ry="8" fill="#b00000" opacity="0.45" filter="url(#blur3)"/>
<ellipse cx="427.5" cy="308.8" rx="6.5" ry="3.5" fill="#300000" opacity="0.7" filter="url(#blur15)"/>
</g>
<rect x="380.5" y="229" width="1.3" height="34" fill="#f0a0b0" opacity="0.35" filter="url(#blur05)"/>
<rect x="365.5" y="226" width="16" height="40" fill="url(#gHaze)" opacity="0.35" filter="url(#blur1)"/>
<rect x="379.5" y="276" width="1.3" height="33" fill="#a0a8f0" opacity="0.4" filter="url(#blur05)"/>
<rect x="276.7" y="207.7" width="85.60000000000002" height="58.30000000000001" fill="#fff"/>
<rect x="276.7" y="224" width="85.60000000000002" height="42" fill="url(#gInsetC)"/>
<line x1="277.7" y1="238.5" x2="361.3" y2="238.5" stroke="#f02020" stroke-width="1.3" stroke-dasharray="2.8,3.7"/>
<rect x="276.7" y="207.7" width="85.60000000000002" height="58.30000000000001" fill="none" stroke="#ffc000" stroke-width="1.3"/>
<line x1="362.3" y1="207.7" x2="414.2" y2="221.4" stroke="#f5b000" stroke-width="1.6"/>
<path d="M421.5,223.3 L413.5,224.1 L415.0,218.7 Z" fill="#f5b000"/>
<rect x="421.8" y="222.5" width="12.2" height="7.2" rx="1.5" fill="none" stroke="#f0c000" stroke-width="1.1" stroke-dasharray="1.3,1.5"/>
<path d="M269.0,199.5 H471.5 V336.5" fill="none" stroke="#5a5a5a" stroke-width="1.05"/>
<path d="M269.5,199.0 V336.5 H472.0" fill="none" stroke="#000" stroke-width="1.1"/>
<rect x="279.5" y="325" width="82.5" height="5" fill="url(#bwr)"/>
<text x="279.5" y="322.5" font-size="11.5" text-anchor="middle" >-5</text>
<text x="320.5" y="322.5" font-size="11.5" text-anchor="middle" >0</text>
<text x="360.5" y="322.5" font-size="11.5" text-anchor="middle" >5</text>
<text x="297.6" y="307" font-size="11.5" font-style="italic">B</text><text x="305" y="310.6" font-size="8" font-style="italic">θ</text><text x="309.7" y="307" font-size="10.8" textLength="12.8" lengthAdjust="spacingAndGlyphs">[10</text><text x="322.2" y="303" font-size="7">4</text><text x="329.6" y="307" font-size="10.8" textLength="12.2" lengthAdjust="spacingAndGlyphs">T]</text>
<text x="457.3" y="330" font-size="24.5" text-anchor="middle" >(c)</text>
<defs>
<linearGradient id="gHot" x1="0" x2="1" y1="0" y2="0"><stop offset="0" stop-color="#ffe000"/><stop offset="0.12" stop-color="#ff9000"/><stop offset="0.3" stop-color="#c00000"/><stop offset="0.45" stop-color="#700000"/><stop offset="0.85" stop-color="#700000"/><stop offset="0.95" stop-color="#d03000"/><stop offset="1" stop-color="#ffc000"/></linearGradient>
<linearGradient id="gHotHalo" x1="0" x2="1" y1="0" y2="0"><stop offset="0" stop-color="#fff080" stop-opacity="0.6"/><stop offset="0.3" stop-color="#ff8000" stop-opacity="0.6"/><stop offset="1" stop-color="#ffb000" stop-opacity="0.6"/></linearGradient>
<linearGradient id="gRedLine" x1="0" x2="1" y1="0" y2="0"><stop offset="0" stop-color="#ff6060"/><stop offset="0.1" stop-color="#f00000"/><stop offset="0.35" stop-color="#d00000"/><stop offset="0.5" stop-color="#900000"/><stop offset="0.65" stop-color="#e00000"/><stop offset="1" stop-color="#ff4040"/></linearGradient>
<linearGradient id="gBlueLine" x1="0" x2="1" y1="0" y2="0"><stop offset="0" stop-color="#6060ff"/><stop offset="0.1" stop-color="#0000f0"/><stop offset="0.5" stop-color="#0000b0"/><stop offset="1" stop-color="#2020ff"/></linearGradient>
<linearGradient id="jetv" x1="0" x2="0" y1="0" y2="1"><stop offset="0" stop-color="#900000"/><stop offset="0.18" stop-color="#ff0000"/><stop offset="0.3" stop-color="#ff9000"/><stop offset="0.38" stop-color="#ffff00"/><stop offset="0.48" stop-color="#ffffff"/><stop offset="0.53" stop-color="#ffffff"/><stop offset="0.63" stop-color="#00ffff"/><stop offset="0.85" stop-color="#0000ff"/><stop offset="1" stop-color="#000090"/></linearGradient>
<linearGradient id="bwrv" x1="0" x2="0" y1="0" y2="1"><stop offset="0" stop-color="#a00000"/><stop offset="0.2" stop-color="#ff0000"/><stop offset="0.5" stop-color="#ffffff"/><stop offset="0.8" stop-color="#0000ff"/><stop offset="1" stop-color="#0000a0"/></linearGradient>
</defs>
<g><rect x="90.7" y="371.4" width="1.1" height="1.1" fill="#ffe040" opacity="0.60"/><rect x="135.8" y="370.9" width="1.1" height="1.1" fill="#ffe040" opacity="0.70"/><rect x="128.8" y="370.8" width="1.1" height="1.1" fill="#90f0ff" opacity="0.43"/><rect x="100.3" y="371.8" width="1.1" height="1.1" fill="#30d8f0" opacity="0.68"/><rect x="84.4" y="371.2" width="1.1" height="1.1" fill="#60e8f8" opacity="0.69"/><rect x="133.2" y="370.8" width="1.1" height="1.1" fill="#30d8f0" opacity="0.45"/><rect x="67.1" y="370.7" width="1.1" height="1.1" fill="#ffe040" opacity="0.53"/><rect x="106.2" y="370.9" width="1.1" height="1.1" fill="#60e8f8" opacity="0.70"/><rect x="96.0" y="371.5" width="1.1" height="1.1" fill="#ffe040" opacity="0.71"/><rect x="85.6" y="371.4" width="1.1" height="1.1" fill="#30d8f0" opacity="0.74"/><rect x="75.3" y="371.0" width="1.1" height="1.1" fill="#90f0ff" opacity="0.37"/><rect x="103.1" y="370.8" width="1.1" height="1.1" fill="#30d8f0" opacity="0.82"/><rect x="83.3" y="371.8" width="1.1" height="1.1" fill="#30d8f0" opacity="0.47"/><rect x="143.8" y="370.8" width="1.1" height="1.1" fill="#ffe040" opacity="0.89"/><rect x="84.5" y="370.8" width="1.1" height="1.1" fill="#60e8f8" opacity="0.78"/><rect x="70.2" y="370.8" width="1.1" height="1.1" fill="#90f0ff" opacity="0.36"/><rect x="85.9" y="371.8" width="1.1" height="1.1" fill="#60e8f8" opacity="0.49"/><rect x="51.3" y="370.8" width="1.1" height="1.1" fill="#ffe040" opacity="0.45"/><rect x="102.6" y="371.2" width="1.1" height="1.1" fill="#60e8f8" opacity="0.89"/><rect x="126.2" y="371.2" width="1.1" height="1.1" fill="#ffe040" opacity="0.41"/><rect x="87.1" y="371.0" width="1.1" height="1.1" fill="#90f0ff" opacity="0.83"/><rect x="149.2" y="371.4" width="1.1" height="1.1" fill="#30d8f0" opacity="0.47"/><rect x="84.2" y="371.7" width="1.1" height="1.1" fill="#30d8f0" opacity="0.37"/><rect x="56.4" y="371.2" width="1.1" height="1.1" fill="#30d8f0" opacity="0.77"/><rect x="76.8" y="371.1" width="1.1" height="1.1" fill="#30d8f0" opacity="0.39"/><rect x="63.4" y="371.5" width="1.1" height="1.1" fill="#30d8f0" opacity="0.68"/><rect x="81.6" y="371.2" width="1.1" height="1.1" fill="#ffe040" opacity="0.81"/><rect x="55.2" y="371.2" width="1.1" height="1.1" fill="#60e8f8" opacity="0.52"/><rect x="65.6" y="371.4" width="1.1" height="1.1" fill="#60e8f8" opacity="0.44"/><rect x="110.4" y="371.4" width="1.1" height="1.1" fill="#ffe040" opacity="0.84"/><rect x="107.6" y="371.2" width="1.1" height="1.1" fill="#30d8f0" opacity="0.41"/><rect x="97.4" y="371.0" width="1.1" height="1.1" fill="#ffe040" opacity="0.49"/><rect x="132.3" y="371.4" width="1.1" height="1.1" fill="#90f0ff" opacity="0.64"/><rect x="144.1" y="371.9" width="1.1" height="1.1" fill="#60e8f8" opacity="0.48"/><rect x="102.6" y="371.7" width="1.1" height="1.1" fill="#30d8f0" opacity="0.50"/><rect x="142.7" y="370.9" width="1.1" height="1.1" fill="#30d8f0" opacity="0.39"/><rect x="86.1" y="371.0" width="1.1" height="1.1" fill="#30d8f0" opacity="0.45"/><rect x="81.3" y="371.4" width="1.1" height="1.1" fill="#60e8f8" opacity="0.40"/><rect x="55.5" y="371.2" width="1.1" height="1.1" fill="#90f0ff" opacity="0.71"/><rect x="117.4" y="371.4" width="1.1" height="1.1" fill="#60e8f8" opacity="0.67"/><rect x="143.4" y="371.3" width="1.1" height="1.1" fill="#90f0ff" opacity="0.74"/><rect x="147.8" y="370.7" width="1.1" height="1.1" fill="#30d8f0" opacity="0.62"/><rect x="121.8" y="371.1" width="1.1" height="1.1" fill="#30d8f0" opacity="0.39"/><rect x="101.2" y="371.6" width="1.1" height="1.1" fill="#60e8f8" opacity="0.79"/><rect x="142.5" y="371.1" width="1.1" height="1.1" fill="#ffe040" opacity="0.85"/><rect x="137.6" y="371.2" width="1.1" height="1.1" fill="#30d8f0" opacity="0.82"/><rect x="104.2" y="371.4" width="1.1" height="1.1" fill="#ffe040" opacity="0.56"/><rect x="41.4" y="370.8" width="1.1" height="1.1" fill="#30d8f0" opacity="0.70"/><rect x="151.3" y="371.8" width="1.1" height="1.1" fill="#90f0ff" opacity="0.56"/><rect x="122.3" y="371.4" width="1.1" height="1.1" fill="#ffe040" opacity="0.60"/><rect x="100.6" y="371.3" width="1.1" height="1.1" fill="#30d8f0" opacity="0.52"/><rect x="49.8" y="370.7" width="1.1" height="1.1" fill="#30d8f0" opacity="0.62"/><rect x="108.8" y="371.8" width="1.1" height="1.1" fill="#90f0ff" opacity="0.84"/><rect x="81.2" y="370.9" width="1.1" height="1.1" fill="#60e8f8" opacity="0.64"/><rect x="124.4" y="371.1" width="1.1" height="1.1" fill="#ffe040" opacity="0.62"/><rect x="67.0" y="371.2" width="1.1" height="1.1" fill="#90f0ff" opacity="0.46"/><rect x="88.3" y="371.7" width="1.1" height="1.1" fill="#60e8f8" opacity="0.83"/><rect x="83.1" y="371.4" width="1.1" height="1.1" fill="#90f0ff" opacity="0.47"/><rect x="55.1" y="371.1" width="1.1" height="1.1" fill="#30d8f0" opacity="0.74"/><rect x="146.4" y="371.0" width="1.1" height="1.1" fill="#60e8f8" opacity="0.41"/><rect x="92.8" y="371.8" width="1.1" height="1.1" fill="#ffe040" opacity="0.56"/><rect x="98.2" y="371.5" width="1.1" height="1.1" fill="#ffe040" opacity="0.53"/><rect x="132.8" y="371.0" width="1.1" height="1.1" fill="#30d8f0" opacity="0.72"/><rect x="71.5" y="371.1" width="1.1" height="1.1" fill="#30d8f0" opacity="0.70"/><rect x="85.4" y="370.9" width="1.1" height="1.1" fill="#90f0ff" opacity="0.48"/><rect x="55.8" y="370.8" width="1.1" height="1.1" fill="#30d8f0" opacity="0.60"/><rect x="110.6" y="371.5" width="1.1" height="1.1" fill="#90f0ff" opacity="0.88"/><rect x="116.7" y="370.9" width="1.1" height="1.1" fill="#ffe040" opacity="0.49"/><rect x="120.0" y="371.6" width="1.1" height="1.1" fill="#30d8f0" opacity="0.45"/><rect x="70.5" y="371.1" width="1.1" height="1.1" fill="#60e8f8" opacity="0.57"/></g>
<g><rect x="128.7" y="369.7" width="1" height="1" fill="#b0f0ff" opacity="0.49"/><rect x="90.5" y="370.3" width="1" height="1" fill="#a0f4ff" opacity="0.61"/><rect x="141.9" y="366.9" width="1" height="1" fill="#ffe860" opacity="0.70"/><rect x="145.8" y="367.0" width="1" height="1" fill="#fff080" opacity="0.46"/><rect x="150.0" y="363.3" width="1" height="1" fill="#b0f0ff" opacity="0.76"/><rect x="53.8" y="365.7" width="1" height="1" fill="#a0f4ff" opacity="0.75"/><rect x="149.8" y="365.4" width="1" height="1" fill="#c0f8ff" opacity="0.43"/><rect x="120.4" y="370.6" width="1" height="1" fill="#60e8f8" opacity="0.47"/><rect x="49.3" y="365.6" width="1" height="1" fill="#c0f8ff" opacity="0.54"/><rect x="43.2" y="369.2" width="1" height="1" fill="#60e8f8" opacity="0.51"/><rect x="43.9" y="364.0" width="1" height="1" fill="#a0f4ff" opacity="0.54"/><rect x="152.0" y="369.9" width="1" height="1" fill="#b0f0ff" opacity="0.56"/><rect x="115.9" y="361.9" width="1" height="1" fill="#ffe860" opacity="0.77"/><rect x="49.6" y="367.7" width="1" height="1" fill="#a0f4ff" opacity="0.52"/><rect x="102.6" y="368.4" width="1" height="1" fill="#a0f4ff" opacity="0.56"/><rect x="134.5" y="365.9" width="1" height="1" fill="#ffe860" opacity="0.43"/><rect x="115.2" y="361.8" width="1" height="1" fill="#ffe860" opacity="0.40"/><rect x="135.3" y="368.7" width="1" height="1" fill="#ffe860" opacity="0.56"/><rect x="104.2" y="369.6" width="1" height="1" fill="#ffe860" opacity="0.30"/><rect x="82.2" y="365.6" width="1" height="1" fill="#ffe860" opacity="0.78"/><rect x="97.8" y="364.2" width="1" height="1" fill="#ffe860" opacity="0.36"/><rect x="50.4" y="366.2" width="1" height="1" fill="#a0f4ff" opacity="0.33"/><rect x="100.3" y="360.8" width="1" height="1" fill="#fff080" opacity="0.43"/><rect x="93.0" y="365.0" width="1" height="1" fill="#a0f4ff" opacity="0.47"/><rect x="140.9" y="361.2" width="1" height="1" fill="#ffe860" opacity="0.46"/><rect x="61.4" y="367.1" width="1" height="1" fill="#ffe860" opacity="0.31"/><rect x="69.1" y="367.4" width="1" height="1" fill="#60e8f8" opacity="0.40"/><rect x="65.5" y="358.4" width="1" height="1" fill="#b0f0ff" opacity="0.44"/><rect x="121.0" y="371.3" width="1" height="1" fill="#fff080" opacity="0.67"/><rect x="53.8" y="365.6" width="1" height="1" fill="#ffe860" opacity="0.61"/><rect x="120.4" y="368.4" width="1" height="1" fill="#60e8f8" opacity="0.49"/><rect x="86.3" y="361.7" width="1" height="1" fill="#ffe860" opacity="0.61"/><rect x="100.3" y="367.4" width="1" height="1" fill="#a0f4ff" opacity="0.56"/><rect x="135.3" y="366.8" width="1" height="1" fill="#ffe860" opacity="0.59"/><rect x="55.3" y="365.5" width="1" height="1" fill="#c0f8ff" opacity="0.75"/><rect x="75.4" y="367.9" width="1" height="1" fill="#c0f8ff" opacity="0.75"/><rect x="61.8" y="370.9" width="1" height="1" fill="#60e8f8" opacity="0.37"/><rect x="66.8" y="368.3" width="1" height="1" fill="#b0f0ff" opacity="0.34"/><rect x="83.4" y="360.6" width="1" height="1" fill="#ffe860" opacity="0.69"/><rect x="54.1" y="366.8" width="1" height="1" fill="#fff080" opacity="0.61"/><rect x="129.5" y="366.2" width="1" height="1" fill="#c0f8ff" opacity="0.76"/><rect x="148.5" y="367.8" width="1" height="1" fill="#60e8f8" opacity="0.65"/><rect x="111.1" y="361.5" width="1" height="1" fill="#a0f4ff" opacity="0.70"/><rect x="42.7" y="371.0" width="1" height="1" fill="#ffe860" opacity="0.54"/><rect x="61.2" y="364.6" width="1" height="1" fill="#60e8f8" opacity="0.40"/><rect x="134.1" y="360.1" width="1" height="1" fill="#60e8f8" opacity="0.59"/><rect x="55.1" y="370.8" width="1" height="1" fill="#b0f0ff" opacity="0.53"/><rect x="125.6" y="368.9" width="1" height="1" fill="#ffe860" opacity="0.48"/><rect x="63.5" y="366.5" width="1" height="1" fill="#c0f8ff" opacity="0.31"/><rect x="118.5" y="369.7" width="1" height="1" fill="#fff080" opacity="0.48"/><rect x="81.5" y="368.9" width="1" height="1" fill="#a0f4ff" opacity="0.60"/><rect x="50.6" y="370.3" width="1" height="1" fill="#60e8f8" opacity="0.70"/><rect x="118.9" y="367.2" width="1" height="1" fill="#b0f0ff" opacity="0.77"/><rect x="103.8" y="369.1" width="1" height="1" fill="#c0f8ff" opacity="0.70"/><rect x="68.9" y="365.3" width="1" height="1" fill="#60e8f8" opacity="0.67"/><rect x="127.1" y="369.5" width="1" height="1" fill="#c0f8ff" opacity="0.74"/><rect x="117.8" y="366.8" width="1" height="1" fill="#fff080" opacity="0.68"/><rect x="85.4" y="371.2" width="1" height="1" fill="#c0f8ff" opacity="0.45"/><rect x="51.3" y="369.6" width="1" height="1" fill="#c0f8ff" opacity="0.80"/><rect x="141.1" y="367.7" width="1" height="1" fill="#b0f0ff" opacity="0.45"/><rect x="64.2" y="370.3" width="1" height="1" fill="#fff080" opacity="0.58"/><rect x="111.9" y="357.9" width="1" height="1" fill="#b0f0ff" opacity="0.36"/><rect x="84.3" y="369.3" width="1" height="1" fill="#60e8f8" opacity="0.67"/><rect x="68.7" y="370.4" width="1" height="1" fill="#fff080" opacity="0.55"/><rect x="125.3" y="371.1" width="1" height="1" fill="#c0f8ff" opacity="0.43"/><rect x="141.4" y="370.9" width="1" height="1" fill="#ffe860" opacity="0.57"/><rect x="86.6" y="361.9" width="1" height="1" fill="#60e8f8" opacity="0.62"/><rect x="130.7" y="370.2" width="1" height="1" fill="#60e8f8" opacity="0.57"/><rect x="114.9" y="366.8" width="1" height="1" fill="#a0f4ff" opacity="0.49"/><rect x="148.6" y="370.1" width="1" height="1" fill="#fff080" opacity="0.57"/><rect x="106.8" y="366.2" width="1" height="1" fill="#c0f8ff" opacity="0.56"/><rect x="107.0" y="369.0" width="1" height="1" fill="#c0f8ff" opacity="0.57"/><rect x="94.1" y="370.1" width="1" height="1" fill="#b0f0ff" opacity="0.66"/><rect x="73.2" y="360.1" width="1" height="1" fill="#60e8f8" opacity="0.69"/><rect x="105.6" y="368.1" width="1" height="1" fill="#b0f0ff" opacity="0.49"/><rect x="140.5" y="367.7" width="1" height="1" fill="#b0f0ff" opacity="0.50"/><rect x="105.2" y="370.8" width="1" height="1" fill="#a0f4ff" opacity="0.51"/><rect x="93.5" y="367.2" width="1" height="1" fill="#a0f4ff" opacity="0.32"/><rect x="51.0" y="367.5" width="1" height="1" fill="#a0f4ff" opacity="0.79"/><rect x="131.5" y="361.3" width="1" height="1" fill="#ffe860" opacity="0.65"/><rect x="45.6" y="369.3" width="1" height="1" fill="#60e8f8" opacity="0.48"/><rect x="57.3" y="370.3" width="1" height="1" fill="#c0f8ff" opacity="0.52"/><rect x="114.8" y="367.8" width="1" height="1" fill="#ffe860" opacity="0.64"/><rect x="80.8" y="370.4" width="1" height="1" fill="#b0f0ff" opacity="0.57"/><rect x="151.7" y="363.7" width="1" height="1" fill="#a0f4ff" opacity="0.54"/><rect x="96.3" y="369.1" width="1" height="1" fill="#c0f8ff" opacity="0.69"/><rect x="110.0" y="369.0" width="1" height="1" fill="#b0f0ff" opacity="0.66"/><rect x="118.3" y="368.4" width="1" height="1" fill="#a0f4ff" opacity="0.62"/><rect x="124.4" y="370.1" width="1" height="1" fill="#b0f0ff" opacity="0.76"/><rect x="138.4" y="368.0" width="1" height="1" fill="#60e8f8" opacity="0.61"/><rect x="41.1" y="371.4" width="1" height="1" fill="#60e8f8" opacity="0.35"/><rect x="100.7" y="370.3" width="1" height="1" fill="#60e8f8" opacity="0.68"/><rect x="142.2" y="369.6" width="1" height="1" fill="#c0f8ff" opacity="0.54"/><rect x="79.7" y="368.4" width="1" height="1" fill="#c0f8ff" opacity="0.47"/><rect x="123.4" y="370.5" width="1" height="1" fill="#60e8f8" opacity="0.52"/><rect x="132.1" y="369.8" width="1" height="1" fill="#a0f4ff" opacity="0.52"/><rect x="123.7" y="369.3" width="1" height="1" fill="#a0f4ff" opacity="0.63"/><rect x="150.8" y="369.7" width="1" height="1" fill="#c0f8ff" opacity="0.45"/><rect x="125.0" y="370.0" width="1" height="1" fill="#b0f0ff" opacity="0.48"/><rect x="50.9" y="368.7" width="1" height="1" fill="#c0f8ff" opacity="0.34"/><rect x="49.3" y="366.2" width="1" height="1" fill="#b0f0ff" opacity="0.53"/><rect x="132.2" y="369.2" width="1" height="1" fill="#60e8f8" opacity="0.34"/><rect x="63.9" y="370.4" width="1" height="1" fill="#c0f8ff" opacity="0.55"/><rect x="125.6" y="369.7" width="1" height="1" fill="#c0f8ff" opacity="0.44"/><rect x="56.0" y="366.5" width="1" height="1" fill="#c0f8ff" opacity="0.75"/><rect x="76.1" y="365.2" width="1" height="1" fill="#fff080" opacity="0.58"/><rect x="142.9" y="361.2" width="1" height="1" fill="#fff080" opacity="0.57"/><rect x="151.1" y="367.4" width="1" height="1" fill="#fff080" opacity="0.46"/></g>
<rect x="138" y="370.9" width="14" height="1.3" fill="#ffd040" opacity="0.6"/>
<g><rect x="84.8" y="457.6" width="1.1" height="1.1" fill="#60e8f8" opacity="0.40"/><rect x="132.8" y="456.5" width="1.1" height="1.1" fill="#ffe040" opacity="0.67"/><rect x="129.2" y="457.4" width="1.1" height="1.1" fill="#90f0ff" opacity="0.79"/><rect x="100.5" y="457.5" width="1.1" height="1.1" fill="#60e8f8" opacity="0.45"/><rect x="125.0" y="457.6" width="1.1" height="1.1" fill="#90f0ff" opacity="0.80"/><rect x="64.8" y="456.6" width="1.1" height="1.1" fill="#60e8f8" opacity="0.66"/><rect x="148.2" y="457.3" width="1.1" height="1.1" fill="#ffe040" opacity="0.39"/><rect x="101.2" y="457.4" width="1.1" height="1.1" fill="#30d8f0" opacity="0.53"/><rect x="70.6" y="456.6" width="1.1" height="1.1" fill="#90f0ff" opacity="0.40"/><rect x="111.0" y="456.7" width="1.1" height="1.1" fill="#ffe040" opacity="0.48"/><rect x="64.7" y="457.4" width="1.1" height="1.1" fill="#90f0ff" opacity="0.77"/><rect x="84.2" y="456.9" width="1.1" height="1.1" fill="#90f0ff" opacity="0.72"/><rect x="95.3" y="457.1" width="1.1" height="1.1" fill="#30d8f0" opacity="0.74"/><rect x="142.5" y="457.0" width="1.1" height="1.1" fill="#90f0ff" opacity="0.82"/><rect x="130.3" y="457.5" width="1.1" height="1.1" fill="#ffe040" opacity="0.88"/><rect x="111.7" y="457.1" width="1.1" height="1.1" fill="#30d8f0" opacity="0.79"/><rect x="87.2" y="457.0" width="1.1" height="1.1" fill="#60e8f8" opacity="0.49"/><rect x="58.2" y="457.3" width="1.1" height="1.1" fill="#60e8f8" opacity="0.53"/><rect x="83.6" y="457.1" width="1.1" height="1.1" fill="#90f0ff" opacity="0.88"/><rect x="46.6" y="456.9" width="1.1" height="1.1" fill="#30d8f0" opacity="0.52"/><rect x="57.4" y="457.6" width="1.1" height="1.1" fill="#30d8f0" opacity="0.76"/><rect x="41.9" y="457.1" width="1.1" height="1.1" fill="#30d8f0" opacity="0.52"/><rect x="62.1" y="456.9" width="1.1" height="1.1" fill="#60e8f8" opacity="0.68"/><rect x="92.9" y="457.1" width="1.1" height="1.1" fill="#ffe040" opacity="0.45"/><rect x="71.5" y="456.7" width="1.1" height="1.1" fill="#90f0ff" opacity="0.69"/><rect x="145.5" y="457.2" width="1.1" height="1.1" fill="#90f0ff" opacity="0.62"/><rect x="85.1" y="457.6" width="1.1" height="1.1" fill="#30d8f0" opacity="0.62"/><rect x="64.8" y="456.6" width="1.1" height="1.1" fill="#60e8f8" opacity="0.79"/><rect x="83.1" y="457.1" width="1.1" height="1.1" fill="#90f0ff" opacity="0.78"/><rect x="46.5" y="457.6" width="1.1" height="1.1" fill="#30d8f0" opacity="0.83"/><rect x="141.4" y="457.0" width="1.1" height="1.1" fill="#60e8f8" opacity="0.74"/><rect x="107.9" y="456.7" width="1.1" height="1.1" fill="#60e8f8" opacity="0.77"/><rect x="56.2" y="457.6" width="1.1" height="1.1" fill="#60e8f8" opacity="0.70"/><rect x="151.2" y="456.8" width="1.1" height="1.1" fill="#30d8f0" opacity="0.43"/><rect x="126.3" y="456.5" width="1.1" height="1.1" fill="#60e8f8" opacity="0.80"/><rect x="49.2" y="456.8" width="1.1" height="1.1" fill="#30d8f0" opacity="0.84"/><rect x="117.7" y="456.6" width="1.1" height="1.1" fill="#90f0ff" opacity="0.36"/><rect x="61.0" y="456.7" width="1.1" height="1.1" fill="#30d8f0" opacity="0.78"/><rect x="89.3" y="456.5" width="1.1" height="1.1" fill="#ffe040" opacity="0.64"/><rect x="57.6" y="457.5" width="1.1" height="1.1" fill="#90f0ff" opacity="0.52"/><rect x="85.4" y="457.2" width="1.1" height="1.1" fill="#ffe040" opacity="0.72"/><rect x="47.5" y="456.6" width="1.1" height="1.1" fill="#60e8f8" opacity="0.41"/><rect x="84.2" y="457.1" width="1.1" height="1.1" fill="#30d8f0" opacity="0.71"/><rect x="41.4" y="457.0" width="1.1" height="1.1" fill="#ffe040" opacity="0.48"/><rect x="103.2" y="457.0" width="1.1" height="1.1" fill="#30d8f0" opacity="0.82"/><rect x="134.6" y="457.4" width="1.1" height="1.1" fill="#60e8f8" opacity="0.51"/><rect x="82.1" y="457.1" width="1.1" height="1.1" fill="#90f0ff" opacity="0.87"/><rect x="124.6" y="457.2" width="1.1" height="1.1" fill="#30d8f0" opacity="0.49"/><rect x="62.4" y="457.4" width="1.1" height="1.1" fill="#90f0ff" opacity="0.52"/><rect x="70.7" y="457.1" width="1.1" height="1.1" fill="#90f0ff" opacity="0.60"/><rect x="82.8" y="456.6" width="1.1" height="1.1" fill="#30d8f0" opacity="0.42"/><rect x="110.6" y="456.7" width="1.1" height="1.1" fill="#60e8f8" opacity="0.57"/><rect x="133.7" y="457.2" width="1.1" height="1.1" fill="#30d8f0" opacity="0.41"/><rect x="43.6" y="457.7" width="1.1" height="1.1" fill="#ffe040" opacity="0.57"/><rect x="48.1" y="457.6" width="1.1" height="1.1" fill="#ffe040" opacity="0.86"/><rect x="55.6" y="456.7" width="1.1" height="1.1" fill="#60e8f8" opacity="0.80"/><rect x="83.2" y="456.9" width="1.1" height="1.1" fill="#ffe040" opacity="0.69"/><rect x="121.4" y="457.2" width="1.1" height="1.1" fill="#90f0ff" opacity="0.89"/><rect x="128.4" y="457.3" width="1.1" height="1.1" fill="#30d8f0" opacity="0.49"/><rect x="61.1" y="456.9" width="1.1" height="1.1" fill="#ffe040" opacity="0.41"/><rect x="82.3" y="457.1" width="1.1" height="1.1" fill="#90f0ff" opacity="0.80"/><rect x="108.5" y="456.7" width="1.1" height="1.1" fill="#90f0ff" opacity="0.65"/><rect x="79.5" y="457.1" width="1.1" height="1.1" fill="#60e8f8" opacity="0.67"/><rect x="62.2" y="457.6" width="1.1" height="1.1" fill="#60e8f8" opacity="0.66"/><rect x="43.0" y="457.3" width="1.1" height="1.1" fill="#30d8f0" opacity="0.42"/><rect x="93.5" y="457.0" width="1.1" height="1.1" fill="#90f0ff" opacity="0.53"/><rect x="144.1" y="456.9" width="1.1" height="1.1" fill="#ffe040" opacity="0.84"/><rect x="90.7" y="457.4" width="1.1" height="1.1" fill="#60e8f8" opacity="0.85"/><rect x="100.9" y="457.2" width="1.1" height="1.1" fill="#90f0ff" opacity="0.44"/><rect x="123.5" y="457.6" width="1.1" height="1.1" fill="#90f0ff" opacity="0.68"/></g>
<g><rect x="53.7" y="459.2" width="1" height="1" fill="#c0f8ff" opacity="0.42"/><rect x="104.2" y="461.0" width="1" height="1" fill="#a0f4ff" opacity="0.39"/><rect x="101.4" y="458.4" width="1" height="1" fill="#a0f4ff" opacity="0.69"/><rect x="144.1" y="457.9" width="1" height="1" fill="#b0f0ff" opacity="0.37"/><rect x="124.7" y="463.6" width="1" height="1" fill="#ffe860" opacity="0.60"/><rect x="130.0" y="466.2" width="1" height="1" fill="#60e8f8" opacity="0.38"/><rect x="86.1" y="463.3" width="1" height="1" fill="#60e8f8" opacity="0.58"/><rect x="59.5" y="458.6" width="1" height="1" fill="#ffe860" opacity="0.37"/><rect x="67.3" y="458.8" width="1" height="1" fill="#60e8f8" opacity="0.66"/><rect x="128.2" y="458.0" width="1" height="1" fill="#fff080" opacity="0.78"/><rect x="107.2" y="462.4" width="1" height="1" fill="#ffe860" opacity="0.76"/><rect x="103.3" y="458.3" width="1" height="1" fill="#fff080" opacity="0.68"/><rect x="94.4" y="466.8" width="1" height="1" fill="#b0f0ff" opacity="0.50"/><rect x="88.6" y="457.6" width="1" height="1" fill="#ffe860" opacity="0.36"/><rect x="145.2" y="460.2" width="1" height="1" fill="#fff080" opacity="0.75"/><rect x="75.9" y="462.6" width="1" height="1" fill="#60e8f8" opacity="0.45"/><rect x="109.0" y="461.7" width="1" height="1" fill="#c0f8ff" opacity="0.68"/><rect x="74.1" y="459.3" width="1" height="1" fill="#ffe860" opacity="0.74"/><rect x="67.4" y="459.4" width="1" height="1" fill="#fff080" opacity="0.79"/><rect x="93.3" y="460.4" width="1" height="1" fill="#60e8f8" opacity="0.56"/><rect x="66.8" y="459.0" width="1" height="1" fill="#a0f4ff" opacity="0.74"/><rect x="151.9" y="462.0" width="1" height="1" fill="#b0f0ff" opacity="0.78"/><rect x="114.6" y="460.8" width="1" height="1" fill="#a0f4ff" opacity="0.41"/><rect x="123.6" y="461.2" width="1" height="1" fill="#ffe860" opacity="0.36"/><rect x="48.0" y="459.9" width="1" height="1" fill="#ffe860" opacity="0.59"/><rect x="90.8" y="457.6" width="1" height="1" fill="#c0f8ff" opacity="0.42"/><rect x="73.5" y="458.1" width="1" height="1" fill="#fff080" opacity="0.71"/><rect x="84.5" y="458.9" width="1" height="1" fill="#c0f8ff" opacity="0.65"/><rect x="65.8" y="459.2" width="1" height="1" fill="#c0f8ff" opacity="0.45"/><rect x="95.8" y="462.5" width="1" height="1" fill="#fff080" opacity="0.74"/><rect x="62.7" y="462.2" width="1" height="1" fill="#60e8f8" opacity="0.40"/><rect x="133.8" y="463.2" width="1" height="1" fill="#c0f8ff" opacity="0.75"/><rect x="41.8" y="462.4" width="1" height="1" fill="#ffe860" opacity="0.40"/><rect x="110.8" y="463.1" width="1" height="1" fill="#a0f4ff" opacity="0.77"/><rect x="149.3" y="459.8" width="1" height="1" fill="#c0f8ff" opacity="0.78"/><rect x="70.7" y="460.8" width="1" height="1" fill="#fff080" opacity="0.66"/><rect x="55.1" y="461.2" width="1" height="1" fill="#fff080" opacity="0.51"/><rect x="59.0" y="468.4" width="1" height="1" fill="#c0f8ff" opacity="0.36"/><rect x="117.4" y="458.2" width="1" height="1" fill="#ffe860" opacity="0.63"/><rect x="128.5" y="465.2" width="1" height="1" fill="#c0f8ff" opacity="0.70"/><rect x="98.7" y="461.8" width="1" height="1" fill="#c0f8ff" opacity="0.75"/><rect x="60.2" y="461.3" width="1" height="1" fill="#a0f4ff" opacity="0.44"/><rect x="111.7" y="469.4" width="1" height="1" fill="#fff080" opacity="0.76"/><rect x="48.3" y="464.9" width="1" height="1" fill="#60e8f8" opacity="0.30"/><rect x="105.7" y="462.4" width="1" height="1" fill="#ffe860" opacity="0.34"/><rect x="71.9" y="458.5" width="1" height="1" fill="#a0f4ff" opacity="0.42"/><rect x="71.3" y="460.4" width="1" height="1" fill="#a0f4ff" opacity="0.79"/><rect x="43.8" y="458.3" width="1" height="1" fill="#fff080" opacity="0.76"/><rect x="105.5" y="467.8" width="1" height="1" fill="#60e8f8" opacity="0.39"/><rect x="102.3" y="457.5" width="1" height="1" fill="#b0f0ff" opacity="0.75"/><rect x="75.9" y="458.6" width="1" height="1" fill="#c0f8ff" opacity="0.55"/><rect x="134.7" y="457.4" width="1" height="1" fill="#b0f0ff" opacity="0.79"/><rect x="123.4" y="463.9" width="1" height="1" fill="#a0f4ff" opacity="0.36"/><rect x="88.8" y="458.6" width="1" height="1" fill="#b0f0ff" opacity="0.52"/><rect x="126.6" y="459.3" width="1" height="1" fill="#a0f4ff" opacity="0.43"/><rect x="100.9" y="465.9" width="1" height="1" fill="#ffe860" opacity="0.60"/><rect x="69.3" y="461.2" width="1" height="1" fill="#60e8f8" opacity="0.59"/><rect x="137.8" y="470.0" width="1" height="1" fill="#a0f4ff" opacity="0.46"/><rect x="108.1" y="464.3" width="1" height="1" fill="#ffe860" opacity="0.52"/><rect x="69.4" y="463.0" width="1" height="1" fill="#60e8f8" opacity="0.34"/><rect x="141.6" y="463.0" width="1" height="1" fill="#b0f0ff" opacity="0.42"/><rect x="56.4" y="459.9" width="1" height="1" fill="#c0f8ff" opacity="0.51"/><rect x="117.9" y="460.8" width="1" height="1" fill="#c0f8ff" opacity="0.68"/><rect x="95.8" y="464.7" width="1" height="1" fill="#b0f0ff" opacity="0.71"/><rect x="59.2" y="457.4" width="1" height="1" fill="#b0f0ff" opacity="0.63"/><rect x="106.7" y="460.2" width="1" height="1" fill="#fff080" opacity="0.33"/><rect x="86.0" y="459.6" width="1" height="1" fill="#60e8f8" opacity="0.36"/><rect x="124.6" y="459.9" width="1" height="1" fill="#ffe860" opacity="0.79"/><rect x="56.2" y="465.2" width="1" height="1" fill="#60e8f8" opacity="0.30"/><rect x="85.9" y="459.6" width="1" height="1" fill="#ffe860" opacity="0.37"/><rect x="84.0" y="458.9" width="1" height="1" fill="#60e8f8" opacity="0.79"/><rect x="116.1" y="462.3" width="1" height="1" fill="#b0f0ff" opacity="0.68"/><rect x="122.2" y="457.8" width="1" height="1" fill="#ffe860" opacity="0.73"/><rect x="86.9" y="461.1" width="1" height="1" fill="#60e8f8" opacity="0.77"/><rect x="80.8" y="464.6" width="1" height="1" fill="#ffe860" opacity="0.41"/><rect x="58.0" y="469.3" width="1" height="1" fill="#ffe860" opacity="0.62"/><rect x="46.6" y="461.6" width="1" height="1" fill="#ffe860" opacity="0.76"/><rect x="59.9" y="463.7" width="1" height="1" fill="#fff080" opacity="0.77"/><rect x="63.9" y="458.4" width="1" height="1" fill="#fff080" opacity="0.47"/><rect x="60.6" y="458.4" width="1" height="1" fill="#ffe860" opacity="0.70"/><rect x="93.8" y="462.7" width="1" height="1" fill="#c0f8ff" opacity="0.54"/><rect x="94.9" y="461.2" width="1" height="1" fill="#b0f0ff" opacity="0.64"/><rect x="136.6" y="458.7" width="1" height="1" fill="#60e8f8" opacity="0.32"/><rect x="71.0" y="462.0" width="1" height="1" fill="#c0f8ff" opacity="0.61"/><rect x="98.1" y="457.6" width="1" height="1" fill="#ffe860" opacity="0.76"/><rect x="120.1" y="463.3" width="1" height="1" fill="#c0f8ff" opacity="0.35"/><rect x="46.4" y="458.5" width="1" height="1" fill="#a0f4ff" opacity="0.68"/><rect x="121.0" y="465.9" width="1" height="1" fill="#60e8f8" opacity="0.31"/><rect x="76.1" y="458.9" width="1" height="1" fill="#fff080" opacity="0.46"/><rect x="126.3" y="458.7" width="1" height="1" fill="#ffe860" opacity="0.63"/><rect x="73.9" y="461.8" width="1" height="1" fill="#a0f4ff" opacity="0.38"/><rect x="106.7" y="460.9" width="1" height="1" fill="#60e8f8" opacity="0.40"/><rect x="86.0" y="464.9" width="1" height="1" fill="#ffe860" opacity="0.65"/><rect x="69.2" y="458.3" width="1" height="1" fill="#b0f0ff" opacity="0.53"/><rect x="82.2" y="464.2" width="1" height="1" fill="#ffe860" opacity="0.66"/><rect x="85.4" y="463.8" width="1" height="1" fill="#fff080" opacity="0.56"/><rect x="79.8" y="461.1" width="1" height="1" fill="#ffe860" opacity="0.41"/><rect x="44.6" y="460.2" width="1" height="1" fill="#60e8f8" opacity="0.67"/><rect x="94.1" y="465.7" width="1" height="1" fill="#b0f0ff" opacity="0.45"/><rect x="115.1" y="457.9" width="1" height="1" fill="#a0f4ff" opacity="0.58"/><rect x="79.6" y="463.5" width="1" height="1" fill="#c0f8ff" opacity="0.42"/><rect x="110.8" y="463.3" width="1" height="1" fill="#60e8f8" opacity="0.70"/><rect x="53.4" y="463.1" width="1" height="1" fill="#c0f8ff" opacity="0.44"/><rect x="118.8" y="457.6" width="1" height="1" fill="#a0f4ff" opacity="0.38"/><rect x="85.1" y="460.3" width="1" height="1" fill="#b0f0ff" opacity="0.66"/><rect x="98.3" y="457.8" width="1" height="1" fill="#b0f0ff" opacity="0.47"/><rect x="87.3" y="461.2" width="1" height="1" fill="#b0f0ff" opacity="0.73"/><rect x="74.6" y="462.7" width="1" height="1" fill="#60e8f8" opacity="0.75"/><rect x="53.5" y="466.6" width="1" height="1" fill="#c0f8ff" opacity="0.33"/><rect x="95.5" y="463.2" width="1" height="1" fill="#ffe860" opacity="0.45"/></g>
<rect x="138" y="456.7" width="14" height="1.3" fill="#ffd040" opacity="0.6"/>
<g><rect x="149.8" y="446.0" width="1.0" height="1.0" fill="#40e0f0" opacity="0.31"/><rect x="146.8" y="446.4" width="1.0" height="1.0" fill="#b0f4ff" opacity="0.45"/><rect x="150.5" y="446.1" width="1.0" height="1.0" fill="#b0f4ff" opacity="0.53"/><rect x="148.9" y="451.4" width="1.0" height="1.0" fill="#80f0f8" opacity="0.32"/><rect x="149.7" y="393.1" width="1.0" height="1.0" fill="#40e0f0" opacity="0.61"/><rect x="149.0" y="408.5" width="1.0" height="1.0" fill="#80f0f8" opacity="0.33"/><rect x="144.5" y="412.7" width="1.0" height="1.0" fill="#80f0f8" opacity="0.49"/><rect x="151.3" y="379.0" width="1.0" height="1.0" fill="#40e0f0" opacity="0.64"/><rect x="146.2" y="415.1" width="1.0" height="1.0" fill="#80f0f8" opacity="0.79"/><rect x="145.2" y="391.2" width="1.0" height="1.0" fill="#40e0f0" opacity="0.43"/><rect x="145.8" y="417.1" width="1.0" height="1.0" fill="#b0f4ff" opacity="0.79"/><rect x="144.0" y="419.2" width="1.0" height="1.0" fill="#b0f4ff" opacity="0.68"/><rect x="144.6" y="441.1" width="1.0" height="1.0" fill="#b0f4ff" opacity="0.78"/><rect x="146.7" y="403.4" width="1.0" height="1.0" fill="#40e0f0" opacity="0.46"/><rect x="149.7" y="430.9" width="1.0" height="1.0" fill="#b0f4ff" opacity="0.38"/><rect x="145.5" y="388.7" width="1.0" height="1.0" fill="#80f0f8" opacity="0.61"/><rect x="147.9" y="420.5" width="1.0" height="1.0" fill="#80f0f8" opacity="0.51"/><rect x="146.9" y="428.8" width="1.0" height="1.0" fill="#80f0f8" opacity="0.42"/></g>
<g><rect x="172.4" y="361.9" width="1.0" height="1.0" fill="#b0f4f8" opacity="0.43"/><rect x="216.4" y="368.5" width="1.0" height="1.0" fill="#b0f4f8" opacity="0.40"/><rect x="229.7" y="361.7" width="1.0" height="1.0" fill="#fff0a0" opacity="0.33"/><rect x="211.1" y="358.5" width="1.0" height="1.0" fill="#fff0a0" opacity="0.42"/><rect x="154.8" y="361.0" width="1.0" height="1.0" fill="#fff0a0" opacity="0.26"/><rect x="207.1" y="362.4" width="1.0" height="1.0" fill="#fff0a0" opacity="0.25"/><rect x="227.0" y="360.5" width="1.0" height="1.0" fill="#b0f4f8" opacity="0.34"/><rect x="187.9" y="366.5" width="1.0" height="1.0" fill="#fff0a0" opacity="0.40"/><rect x="161.3" y="362.5" width="1.0" height="1.0" fill="#fff0a0" opacity="0.26"/><rect x="166.6" y="358.2" width="1.0" height="1.0" fill="#b0f4f8" opacity="0.27"/><rect x="174.4" y="361.0" width="1.0" height="1.0" fill="#fff0a0" opacity="0.30"/><rect x="211.1" y="359.7" width="1.0" height="1.0" fill="#b0f4f8" opacity="0.38"/><rect x="160.7" y="358.5" width="1.0" height="1.0" fill="#fff0a0" opacity="0.29"/><rect x="198.5" y="367.6" width="1.0" height="1.0" fill="#fff0a0" opacity="0.28"/><rect x="152.4" y="364.5" width="1.0" height="1.0" fill="#fff0a0" opacity="0.24"/><rect x="156.1" y="363.3" width="1.0" height="1.0" fill="#fff0a0" opacity="0.26"/><rect x="215.0" y="362.9" width="1.0" height="1.0" fill="#b0f4f8" opacity="0.45"/><rect x="185.0" y="366.3" width="1.0" height="1.0" fill="#fff0a0" opacity="0.40"/><rect x="163.2" y="360.1" width="1.0" height="1.0" fill="#b0f4f8" opacity="0.34"/><rect x="230.7" y="368.6" width="1.0" height="1.0" fill="#fff0a0" opacity="0.23"/></g>
<polygon points="230.3,415.0 230.5,425.0 230.3,429.8 229.5,433.5 229.2,436.5 228.2,439.0 228.2,441.6 226.4,443.6 225.6,446.2 224.0,447.8 222.8,448.8 221.3,450.1 218.8,451.3 217.1,452.3 214.4,453.5 211.9,454.1 208.4,454.4 204.2,453.8 195.0,453.9 186.0,453.7 181.6,454.3 178.3,453.6 175.7,452.6 172.7,451.7 170.8,451.6 168.7,450.4 167.3,449.2 165.4,447.7 163.9,445.4 162.8,443.8 162.0,441.5 161.0,439.0 160.6,436.5 160.3,433.5 159.6,430.0 159.7,425.2 159.7,415.0 159.1,404.9 160.2,400.2 159.9,396.6 160.5,393.3 161.2,390.9 162.6,388.5 163.4,386.2 164.8,384.3 165.8,382.8 167.2,380.6 169.2,379.4 171.0,378.4 173.3,377.2 175.5,376.5 178.4,376.6 181.5,376.4 185.9,375.6 195.0,375.9 204.1,376.0 208.6,376.4 211.8,376.6 214.6,377.4 217.1,377.4 219.4,378.6 221.1,379.8 222.5,380.8 224.4,382.6 225.8,384.3 226.7,386.4 227.9,388.2 228.6,391.0 229.4,393.4 229.9,396.4 230.7,400.3 230.4,404.7" fill="#d8fcfd"/>
<polygon points="228.4,415.0 228.3,419.6 227.7,423.1 226.9,426.4 226.5,429.0 225.9,432.0 224.8,434.6 223.4,436.8 222.0,438.6 220.1,441.1 217.8,443.0 215.9,444.3 213.8,445.4 211.1,447.0 208.4,447.9 205.9,448.6 202.7,449.5 199.4,449.8 195.0,450.0 190.6,449.1 187.3,448.8 184.4,448.5 181.3,448.2 179.0,446.6 176.4,446.0 174.0,444.7 172.3,443.1 170.3,441.0 168.1,439.1 167.1,436.9 165.6,434.1 164.6,431.8 163.4,429.1 162.6,426.3 162.5,423.0 161.7,419.5 162.2,415.0 161.5,410.5 162.4,407.0 162.3,403.7 163.3,400.9 164.6,398.2 165.9,395.5 166.9,393.0 168.5,391.1 170.1,388.7 172.1,387.1 174.3,385.6 176.5,384.0 178.9,382.8 181.3,382.2 184.1,381.5 187.2,380.7 190.7,381.0 195.0,380.6 199.3,380.0 202.7,380.6 205.8,381.6 208.5,382.5 211.4,383.4 213.6,384.5 216.1,385.4 218.0,387.3 219.6,388.8 221.3,391.2 223.0,393.1 224.6,395.7 226.0,397.9 226.1,400.8 227.2,403.8 227.7,407.0 228.3,410.5" fill="#bef8fb"/>
<polygon points="221.4,415.0 221.3,417.7 220.9,420.1 220.3,422.5 219.2,424.6 218.7,426.7 217.6,428.8 216.4,430.4 215.1,432.2 214.0,433.6 212.1,435.4 210.6,436.8 208.5,438.0 206.7,438.9 204.5,439.5 202.3,440.4 200.2,440.9 197.6,440.8 195.0,441.0 192.3,441.1 189.9,440.6 187.7,440.2 185.5,439.2 183.3,438.6 181.2,437.6 179.5,436.3 177.9,435.3 176.1,433.8 174.5,432.0 173.2,430.3 171.9,428.7 171.3,426.7 170.2,424.7 169.9,422.3 169.6,420.2 168.9,417.7 169.3,415.0 169.5,412.3 169.5,409.8 169.7,407.5 170.8,405.4 171.6,403.4 172.5,401.2 173.5,399.5 174.6,397.6 175.9,396.1 177.8,394.5 179.5,393.5 181.3,392.4 183.4,391.3 185.4,390.6 187.6,389.9 190.0,389.1 192.3,389.1 195.0,389.1 197.7,389.4 200.1,389.5 202.4,390.0 204.7,390.5 206.5,391.3 208.8,392.6 210.5,393.1 212.2,394.6 213.8,396.3 215.4,397.7 216.5,399.5 217.8,401.3 218.4,403.5 219.4,405.5 220.4,407.6 220.9,409.9 220.7,412.3" fill="#9ef4f9"/>
<polygon points="212.3,415.0 212.6,416.6 212.1,418.1 212.1,419.6 211.3,421.0 210.7,422.4 210.2,423.8 209.5,424.7 208.7,426.1 207.5,426.9 206.5,428.1 205.2,429.2 204.0,429.6 202.6,430.4 201.2,430.9 199.7,431.4 198.1,431.7 196.6,431.7 195.0,432.2 193.4,432.0 191.9,431.6 190.3,431.7 188.8,431.2 187.5,430.4 186.1,429.9 184.9,429.2 183.6,427.9 182.5,427.1 181.4,426.2 180.6,424.9 179.8,423.7 179.3,422.4 178.7,421.0 178.2,419.5 177.9,418.1 177.5,416.6 177.6,415.0 177.4,413.4 177.7,411.9 177.8,410.5 178.4,409.1 179.2,407.6 179.8,406.4 180.8,405.0 181.6,403.9 182.5,402.8 183.6,401.7 184.7,401.0 186.1,400.3 187.4,399.7 188.9,398.8 190.4,398.5 191.8,398.2 193.4,398.2 195.0,397.9 196.6,398.3 198.2,398.4 199.6,398.5 201.2,399.2 202.6,399.5 204.0,400.0 205.2,401.1 206.5,401.8 207.4,402.7 208.6,404.0 209.3,405.3 210.2,406.4 210.8,407.7 211.3,409.0 211.8,410.5 212.1,411.9 212.6,413.4" fill="#70eef6"/>
<rect x="151.5" y="370.20000000000005" width="82.5" height="3.8" fill="url(#gHotHalo)" rx="1.5"/>
<rect x="153" y="371.05" width="80" height="2.1" fill="url(#gHot)"/>
<g><rect x="222.0" y="369.5" width="1.2" height="1.2" fill="#a8f0f8" opacity="0.34"/><rect x="217.4" y="368.7" width="1.2" height="1.2" fill="#a8f0f8" opacity="0.58"/><rect x="201.0" y="369.3" width="1.2" height="1.2" fill="#90ecf8" opacity="0.32"/><rect x="228.1" y="368.9" width="1.2" height="1.2" fill="#a8f0f8" opacity="0.39"/><rect x="190.3" y="368.9" width="1.2" height="1.2" fill="#a8f0f8" opacity="0.39"/><rect x="204.9" y="368.8" width="1.2" height="1.2" fill="#a8f0f8" opacity="0.44"/><rect x="173.1" y="369.6" width="1.2" height="1.2" fill="#60e4f4" opacity="0.53"/><rect x="227.3" y="369.4" width="1.2" height="1.2" fill="#90ecf8" opacity="0.66"/><rect x="163.0" y="369.2" width="1.2" height="1.2" fill="#60e4f4" opacity="0.38"/><rect x="183.7" y="368.9" width="1.2" height="1.2" fill="#60e4f4" opacity="0.32"/><rect x="207.0" y="368.6" width="1.2" height="1.2" fill="#60e4f4" opacity="0.47"/><rect x="166.2" y="369.6" width="1.2" height="1.2" fill="#a8f0f8" opacity="0.52"/><rect x="189.1" y="369.3" width="1.2" height="1.2" fill="#60e4f4" opacity="0.51"/><rect x="182.6" y="369.1" width="1.2" height="1.2" fill="#60e4f4" opacity="0.65"/><rect x="162.9" y="368.7" width="1.2" height="1.2" fill="#60e4f4" opacity="0.33"/><rect x="193.0" y="369.2" width="1.2" height="1.2" fill="#a8f0f8" opacity="0.34"/><rect x="225.2" y="368.8" width="1.2" height="1.2" fill="#60e4f4" opacity="0.58"/><rect x="228.2" y="369.7" width="1.2" height="1.2" fill="#60e4f4" opacity="0.64"/><rect x="227.9" y="368.5" width="1.2" height="1.2" fill="#90ecf8" opacity="0.62"/><rect x="232.7" y="369.2" width="1.2" height="1.2" fill="#a8f0f8" opacity="0.43"/><rect x="168.2" y="369.4" width="1.2" height="1.2" fill="#60e4f4" opacity="0.68"/><rect x="157.5" y="368.6" width="1.2" height="1.2" fill="#90ecf8" opacity="0.68"/><rect x="156.9" y="368.5" width="1.2" height="1.2" fill="#60e4f4" opacity="0.58"/><rect x="195.5" y="369.2" width="1.2" height="1.2" fill="#a8f0f8" opacity="0.62"/><rect x="155.1" y="368.6" width="1.2" height="1.2" fill="#60e4f4" opacity="0.69"/><rect x="220.0" y="369.0" width="1.2" height="1.2" fill="#90ecf8" opacity="0.39"/><rect x="185.6" y="369.6" width="1.2" height="1.2" fill="#60e4f4" opacity="0.40"/><rect x="200.7" y="369.1" width="1.2" height="1.2" fill="#90ecf8" opacity="0.51"/><rect x="182.4" y="369.3" width="1.2" height="1.2" fill="#90ecf8" opacity="0.37"/><rect x="166.7" y="368.8" width="1.2" height="1.2" fill="#90ecf8" opacity="0.39"/></g>
<ellipse cx="148.5" cy="372.90000000000003" rx="2.5" ry="1.6" fill="#30d0f0" opacity="0.8"/>
<rect x="151.5" y="455.5" width="82.5" height="3.8" fill="url(#gHotHalo)" rx="1.5"/>
<rect x="153" y="456.34999999999997" width="80" height="2.1" fill="url(#gHot)"/>
<g><rect x="226.7" y="460.0" width="1.2" height="1.2" fill="#a8f0f8" opacity="0.56"/><rect x="175.3" y="460.4" width="1.2" height="1.2" fill="#90ecf8" opacity="0.53"/><rect x="156.7" y="460.2" width="1.2" height="1.2" fill="#60e4f4" opacity="0.42"/><rect x="180.7" y="460.7" width="1.2" height="1.2" fill="#a8f0f8" opacity="0.31"/><rect x="174.3" y="459.9" width="1.2" height="1.2" fill="#a8f0f8" opacity="0.61"/><rect x="174.1" y="460.1" width="1.2" height="1.2" fill="#90ecf8" opacity="0.52"/><rect x="165.8" y="460.6" width="1.2" height="1.2" fill="#60e4f4" opacity="0.66"/><rect x="232.3" y="460.3" width="1.2" height="1.2" fill="#60e4f4" opacity="0.47"/><rect x="207.3" y="460.1" width="1.2" height="1.2" fill="#60e4f4" opacity="0.45"/><rect x="177.4" y="460.5" width="1.2" height="1.2" fill="#a8f0f8" opacity="0.33"/><rect x="231.0" y="460.9" width="1.2" height="1.2" fill="#60e4f4" opacity="0.50"/><rect x="184.7" y="459.9" width="1.2" height="1.2" fill="#60e4f4" opacity="0.36"/><rect x="171.0" y="460.9" width="1.2" height="1.2" fill="#60e4f4" opacity="0.67"/><rect x="181.7" y="460.9" width="1.2" height="1.2" fill="#60e4f4" opacity="0.62"/><rect x="179.9" y="459.9" width="1.2" height="1.2" fill="#60e4f4" opacity="0.35"/><rect x="207.9" y="460.9" width="1.2" height="1.2" fill="#a8f0f8" opacity="0.65"/><rect x="207.1" y="460.2" width="1.2" height="1.2" fill="#a8f0f8" opacity="0.35"/><rect x="176.3" y="460.9" width="1.2" height="1.2" fill="#60e4f4" opacity="0.69"/><rect x="211.6" y="460.6" width="1.2" height="1.2" fill="#60e4f4" opacity="0.42"/><rect x="169.3" y="459.9" width="1.2" height="1.2" fill="#a8f0f8" opacity="0.51"/><rect x="218.7" y="460.3" width="1.2" height="1.2" fill="#a8f0f8" opacity="0.40"/><rect x="162.2" y="460.6" width="1.2" height="1.2" fill="#60e4f4" opacity="0.33"/><rect x="179.1" y="460.7" width="1.2" height="1.2" fill="#a8f0f8" opacity="0.50"/><rect x="167.5" y="460.2" width="1.2" height="1.2" fill="#a8f0f8" opacity="0.34"/><rect x="192.7" y="460.9" width="1.2" height="1.2" fill="#a8f0f8" opacity="0.48"/><rect x="202.0" y="460.8" width="1.2" height="1.2" fill="#90ecf8" opacity="0.32"/><rect x="166.5" y="460.4" width="1.2" height="1.2" fill="#a8f0f8" opacity="0.31"/><rect x="214.5" y="460.3" width="1.2" height="1.2" fill="#60e4f4" opacity="0.41"/><rect x="158.5" y="460.3" width="1.2" height="1.2" fill="#60e4f4" opacity="0.68"/><rect x="156.9" y="460.3" width="1.2" height="1.2" fill="#90ecf8" opacity="0.54"/></g>
<ellipse cx="148.5" cy="456.59999999999997" rx="2.5" ry="1.6" fill="#30d0f0" opacity="0.8"/>
<path d="M37.0,346.5 H239.5 V483.5" fill="none" stroke="#5a5a5a" stroke-width="1.05"/>
<path d="M37.5,346.0 V483.5 H240.0" fill="none" stroke="#000" stroke-width="1.1"/>
<rect x="48.6" y="383.2" width="5" height="63.2" fill="url(#jetv)"/>
<text x="56" y="391" font-size="10.5" text-anchor="start" >3</text>
<text x="56" y="419.5" font-size="10.5" text-anchor="start" >0</text>
<text x="55.5" y="448.5" font-size="10.5" text-anchor="start" >-3</text>
<text x="0" y="0" font-size="11.6" text-anchor="middle" transform="translate(79,414.8) rotate(-90)"><tspan font-style="italic">J</tspan><tspan font-size="9" font-style="italic" dy="3">x</tspan><tspan dy="-3"> [10</tspan><tspan font-size="8" dy="-4">17</tspan><tspan dy="4"> A/m</tspan><tspan font-size="8" dy="-4">2</tspan><tspan dy="4">]</tspan></text>
<text x="224" y="476.7" font-size="24.5" text-anchor="middle" >(d)</text>
<text x="33.6" y="355.6" font-size="15.5" text-anchor="end" >3</text>
<text x="33.6" y="419.8" font-size="15.5" text-anchor="end" >0</text>
<text x="33.8" y="485" font-size="15.5" text-anchor="end" >-3</text>
<text x="0" y="0" font-size="17" text-anchor="middle" transform="translate(13.8,414.8) rotate(-90)"><tspan font-style="italic">y</tspan> [μm]</text>
<text x="38.8" y="501.2" font-size="15.5" text-anchor="middle" >-10</text>
<text x="137.6" y="501.2" font-size="15.5" text-anchor="middle" >-5</text>
<text x="237.8" y="501.2" font-size="15.5" text-anchor="middle" >0</text>
<text x="138.8" y="516.2" font-size="17" text-anchor="middle" >ξ [μm]</text>
<g><rect x="326.1" y="372.4" width="1.1" height="1.1" fill="#d0d4f8" opacity="0.19"/><rect x="273.2" y="372.0" width="1.1" height="1.1" fill="#d0d4f8" opacity="0.31"/><rect x="324.5" y="372.7" width="1.1" height="1.1" fill="#f0c8d0" opacity="0.29"/><rect x="347.4" y="371.6" width="1.1" height="1.1" fill="#b8c0f0" opacity="0.24"/><rect x="310.7" y="371.7" width="1.1" height="1.1" fill="#f0c8d0" opacity="0.17"/><rect x="350.3" y="371.9" width="1.1" height="1.1" fill="#b8c0f0" opacity="0.35"/><rect x="282.0" y="372.8" width="1.1" height="1.1" fill="#f0c8d0" opacity="0.17"/><rect x="384.5" y="372.8" width="1.1" height="1.1" fill="#c0c8f0" opacity="0.32"/><rect x="382.7" y="372.2" width="1.1" height="1.1" fill="#f0c8d0" opacity="0.39"/><rect x="373.0" y="372.2" width="1.1" height="1.1" fill="#c0c8f0" opacity="0.25"/><rect x="319.7" y="372.3" width="1.1" height="1.1" fill="#b8c0f0" opacity="0.30"/><rect x="333.7" y="372.4" width="1.1" height="1.1" fill="#c0c8f0" opacity="0.39"/><rect x="383.3" y="372.4" width="1.1" height="1.1" fill="#d0d4f8" opacity="0.39"/><rect x="370.7" y="372.0" width="1.1" height="1.1" fill="#d0d4f8" opacity="0.18"/><rect x="298.8" y="371.9" width="1.1" height="1.1" fill="#f0c8d0" opacity="0.16"/><rect x="365.8" y="372.0" width="1.1" height="1.1" fill="#c0c8f0" opacity="0.21"/><rect x="320.7" y="372.0" width="1.1" height="1.1" fill="#c0c8f0" opacity="0.34"/><rect x="297.2" y="371.5" width="1.1" height="1.1" fill="#d0d4f8" opacity="0.16"/><rect x="303.5" y="371.9" width="1.1" height="1.1" fill="#c0c8f0" opacity="0.28"/><rect x="314.0" y="371.9" width="1.1" height="1.1" fill="#b8c0f0" opacity="0.27"/><rect x="381.3" y="372.1" width="1.1" height="1.1" fill="#f0c8d0" opacity="0.27"/><rect x="334.6" y="371.7" width="1.1" height="1.1" fill="#f0c8d0" opacity="0.38"/><rect x="272.8" y="371.8" width="1.1" height="1.1" fill="#d0d4f8" opacity="0.19"/><rect x="362.6" y="372.2" width="1.1" height="1.1" fill="#f0c8d0" opacity="0.30"/><rect x="384.2" y="372.9" width="1.1" height="1.1" fill="#f0c8d0" opacity="0.16"/><rect x="308.8" y="372.6" width="1.1" height="1.1" fill="#d0d4f8" opacity="0.31"/><rect x="298.2" y="372.2" width="1.1" height="1.1" fill="#b8c0f0" opacity="0.27"/><rect x="312.3" y="372.4" width="1.1" height="1.1" fill="#b8c0f0" opacity="0.37"/><rect x="290.5" y="371.8" width="1.1" height="1.1" fill="#c0c8f0" opacity="0.22"/><rect x="379.6" y="372.2" width="1.1" height="1.1" fill="#b8c0f0" opacity="0.33"/><rect x="296.4" y="371.8" width="1.1" height="1.1" fill="#d0d4f8" opacity="0.16"/><rect x="272.4" y="371.4" width="1.1" height="1.1" fill="#d0d4f8" opacity="0.26"/><rect x="299.5" y="372.1" width="1.1" height="1.1" fill="#c0c8f0" opacity="0.29"/><rect x="343.2" y="372.8" width="1.1" height="1.1" fill="#d0d4f8" opacity="0.34"/><rect x="319.6" y="372.3" width="1.1" height="1.1" fill="#b8c0f0" opacity="0.35"/><rect x="338.1" y="371.9" width="1.1" height="1.1" fill="#d0d4f8" opacity="0.31"/><rect x="315.9" y="371.6" width="1.1" height="1.1" fill="#f0c8d0" opacity="0.38"/><rect x="362.9" y="372.7" width="1.1" height="1.1" fill="#b8c0f0" opacity="0.28"/><rect x="362.0" y="372.0" width="1.1" height="1.1" fill="#c0c8f0" opacity="0.33"/><rect x="293.5" y="371.8" width="1.1" height="1.1" fill="#b8c0f0" opacity="0.31"/><rect x="286.2" y="372.2" width="1.1" height="1.1" fill="#b8c0f0" opacity="0.30"/><rect x="280.2" y="371.9" width="1.1" height="1.1" fill="#c0c8f0" opacity="0.32"/><rect x="288.2" y="371.5" width="1.1" height="1.1" fill="#d0d4f8" opacity="0.23"/><rect x="292.5" y="372.4" width="1.1" height="1.1" fill="#b8c0f0" opacity="0.24"/><rect x="275.4" y="372.1" width="1.1" height="1.1" fill="#b8c0f0" opacity="0.27"/><rect x="278.5" y="372.3" width="1.1" height="1.1" fill="#b8c0f0" opacity="0.21"/><rect x="309.3" y="372.8" width="1.1" height="1.1" fill="#c0c8f0" opacity="0.39"/><rect x="313.8" y="372.7" width="1.1" height="1.1" fill="#b8c0f0" opacity="0.22"/><rect x="330.9" y="371.6" width="1.1" height="1.1" fill="#d0d4f8" opacity="0.19"/><rect x="325.0" y="372.3" width="1.1" height="1.1" fill="#f0c8d0" opacity="0.27"/><rect x="361.5" y="371.5" width="1.1" height="1.1" fill="#f0c8d0" opacity="0.25"/><rect x="351.7" y="372.6" width="1.1" height="1.1" fill="#b8c0f0" opacity="0.32"/><rect x="382.9" y="372.2" width="1.1" height="1.1" fill="#d0d4f8" opacity="0.24"/><rect x="355.5" y="371.9" width="1.1" height="1.1" fill="#b8c0f0" opacity="0.37"/><rect x="344.1" y="371.7" width="1.1" height="1.1" fill="#b8c0f0" opacity="0.21"/><rect x="334.1" y="371.8" width="1.1" height="1.1" fill="#c0c8f0" opacity="0.26"/><rect x="313.6" y="372.0" width="1.1" height="1.1" fill="#d0d4f8" opacity="0.25"/><rect x="371.5" y="372.7" width="1.1" height="1.1" fill="#d0d4f8" opacity="0.19"/><rect x="301.6" y="371.4" width="1.1" height="1.1" fill="#b8c0f0" opacity="0.25"/><rect x="342.4" y="371.8" width="1.1" height="1.1" fill="#b8c0f0" opacity="0.34"/></g>
<g><rect x="328.1" y="375.8" width="1.0" height="1.0" fill="#e0e4f8" opacity="0.13"/><rect x="295.4" y="370.3" width="1.0" height="1.0" fill="#f8e0e4" opacity="0.20"/><rect x="278.0" y="375.0" width="1.0" height="1.0" fill="#f8e0e4" opacity="0.30"/><rect x="376.3" y="374.5" width="1.0" height="1.0" fill="#f8e0e4" opacity="0.27"/><rect x="296.1" y="375.3" width="1.0" height="1.0" fill="#e0e4f8" opacity="0.21"/><rect x="276.9" y="374.8" width="1.0" height="1.0" fill="#e0e4f8" opacity="0.13"/><rect x="353.6" y="370.7" width="1.0" height="1.0" fill="#e0e4f8" opacity="0.30"/><rect x="360.2" y="372.7" width="1.0" height="1.0" fill="#e0e4f8" opacity="0.22"/><rect x="283.7" y="373.8" width="1.0" height="1.0" fill="#e0e4f8" opacity="0.19"/><rect x="332.1" y="373.5" width="1.0" height="1.0" fill="#f8e0e4" opacity="0.20"/><rect x="344.5" y="372.0" width="1.0" height="1.0" fill="#f8e0e4" opacity="0.27"/><rect x="373.8" y="368.5" width="1.0" height="1.0" fill="#f8e0e4" opacity="0.10"/><rect x="289.7" y="374.4" width="1.0" height="1.0" fill="#f8e0e4" opacity="0.24"/><rect x="381.0" y="373.8" width="1.0" height="1.0" fill="#f8e0e4" opacity="0.21"/><rect x="381.7" y="371.3" width="1.0" height="1.0" fill="#e0e4f8" opacity="0.27"/><rect x="286.7" y="368.8" width="1.0" height="1.0" fill="#e0e4f8" opacity="0.18"/><rect x="363.9" y="375.0" width="1.0" height="1.0" fill="#e0e4f8" opacity="0.11"/><rect x="350.3" y="372.8" width="1.0" height="1.0" fill="#e0e4f8" opacity="0.22"/><rect x="338.9" y="374.7" width="1.0" height="1.0" fill="#e0e4f8" opacity="0.19"/><rect x="310.4" y="373.5" width="1.0" height="1.0" fill="#f8e0e4" opacity="0.26"/></g>
<line x1="366" y1="372.0" x2="375" y2="372.6" stroke="#f07080" stroke-width="1" opacity="0.6"/>
<path d="M376,372.3 L379,374.3 L382,371.8" stroke="#8088e0" stroke-width="0.8" fill="none" opacity="0.5"/>
<g><rect x="316.5" y="457.4" width="1.1" height="1.1" fill="#d0d4f8" opacity="0.39"/><rect x="384.5" y="457.5" width="1.1" height="1.1" fill="#d0d4f8" opacity="0.19"/><rect x="286.0" y="457.1" width="1.1" height="1.1" fill="#f0c8d0" opacity="0.32"/><rect x="273.4" y="456.7" width="1.1" height="1.1" fill="#b8c0f0" opacity="0.26"/><rect x="310.8" y="457.0" width="1.1" height="1.1" fill="#d0d4f8" opacity="0.23"/><rect x="315.5" y="457.7" width="1.1" height="1.1" fill="#b8c0f0" opacity="0.24"/><rect x="373.4" y="457.4" width="1.1" height="1.1" fill="#d0d4f8" opacity="0.17"/><rect x="310.9" y="456.8" width="1.1" height="1.1" fill="#f0c8d0" opacity="0.36"/><rect x="347.9" y="457.1" width="1.1" height="1.1" fill="#d0d4f8" opacity="0.21"/><rect x="319.7" y="456.6" width="1.1" height="1.1" fill="#b8c0f0" opacity="0.19"/><rect x="334.5" y="457.3" width="1.1" height="1.1" fill="#d0d4f8" opacity="0.24"/><rect x="307.3" y="456.9" width="1.1" height="1.1" fill="#d0d4f8" opacity="0.39"/><rect x="340.2" y="456.5" width="1.1" height="1.1" fill="#b8c0f0" opacity="0.37"/><rect x="379.2" y="457.3" width="1.1" height="1.1" fill="#d0d4f8" opacity="0.36"/><rect x="288.2" y="456.9" width="1.1" height="1.1" fill="#b8c0f0" opacity="0.16"/><rect x="309.5" y="457.2" width="1.1" height="1.1" fill="#c0c8f0" opacity="0.37"/><rect x="290.7" y="457.1" width="1.1" height="1.1" fill="#c0c8f0" opacity="0.32"/><rect x="291.6" y="457.1" width="1.1" height="1.1" fill="#d0d4f8" opacity="0.17"/><rect x="350.4" y="456.7" width="1.1" height="1.1" fill="#d0d4f8" opacity="0.31"/><rect x="344.6" y="457.3" width="1.1" height="1.1" fill="#b8c0f0" opacity="0.34"/><rect x="307.4" y="456.6" width="1.1" height="1.1" fill="#b8c0f0" opacity="0.25"/><rect x="325.1" y="456.9" width="1.1" height="1.1" fill="#f0c8d0" opacity="0.21"/><rect x="332.0" y="457.5" width="1.1" height="1.1" fill="#d0d4f8" opacity="0.24"/><rect x="306.9" y="456.4" width="1.1" height="1.1" fill="#d0d4f8" opacity="0.25"/><rect x="382.3" y="457.8" width="1.1" height="1.1" fill="#f0c8d0" opacity="0.32"/><rect x="331.3" y="457.3" width="1.1" height="1.1" fill="#f0c8d0" opacity="0.21"/><rect x="319.2" y="456.5" width="1.1" height="1.1" fill="#c0c8f0" opacity="0.26"/><rect x="332.6" y="456.8" width="1.1" height="1.1" fill="#f0c8d0" opacity="0.18"/><rect x="366.8" y="457.0" width="1.1" height="1.1" fill="#b8c0f0" opacity="0.23"/><rect x="282.6" y="456.7" width="1.1" height="1.1" fill="#f0c8d0" opacity="0.24"/><rect x="332.3" y="456.8" width="1.1" height="1.1" fill="#d0d4f8" opacity="0.35"/><rect x="286.3" y="456.7" width="1.1" height="1.1" fill="#c0c8f0" opacity="0.35"/><rect x="301.7" y="457.2" width="1.1" height="1.1" fill="#b8c0f0" opacity="0.18"/><rect x="342.4" y="456.7" width="1.1" height="1.1" fill="#c0c8f0" opacity="0.26"/><rect x="274.5" y="457.1" width="1.1" height="1.1" fill="#d0d4f8" opacity="0.36"/><rect x="281.7" y="457.2" width="1.1" height="1.1" fill="#b8c0f0" opacity="0.29"/><rect x="368.0" y="457.7" width="1.1" height="1.1" fill="#b8c0f0" opacity="0.29"/><rect x="368.6" y="457.0" width="1.1" height="1.1" fill="#f0c8d0" opacity="0.16"/><rect x="362.8" y="457.2" width="1.1" height="1.1" fill="#d0d4f8" opacity="0.40"/><rect x="297.1" y="457.0" width="1.1" height="1.1" fill="#b8c0f0" opacity="0.28"/><rect x="360.6" y="457.4" width="1.1" height="1.1" fill="#d0d4f8" opacity="0.31"/><rect x="313.4" y="456.8" width="1.1" height="1.1" fill="#c0c8f0" opacity="0.31"/><rect x="366.1" y="456.6" width="1.1" height="1.1" fill="#f0c8d0" opacity="0.17"/><rect x="289.1" y="457.6" width="1.1" height="1.1" fill="#f0c8d0" opacity="0.19"/><rect x="366.2" y="457.7" width="1.1" height="1.1" fill="#f0c8d0" opacity="0.36"/><rect x="274.2" y="456.6" width="1.1" height="1.1" fill="#b8c0f0" opacity="0.29"/><rect x="351.9" y="457.5" width="1.1" height="1.1" fill="#d0d4f8" opacity="0.34"/><rect x="304.5" y="457.5" width="1.1" height="1.1" fill="#b8c0f0" opacity="0.20"/><rect x="380.8" y="457.8" width="1.1" height="1.1" fill="#d0d4f8" opacity="0.24"/><rect x="282.7" y="457.1" width="1.1" height="1.1" fill="#b8c0f0" opacity="0.24"/><rect x="276.6" y="456.9" width="1.1" height="1.1" fill="#c0c8f0" opacity="0.22"/><rect x="371.4" y="456.9" width="1.1" height="1.1" fill="#c0c8f0" opacity="0.38"/><rect x="299.3" y="457.2" width="1.1" height="1.1" fill="#f0c8d0" opacity="0.37"/><rect x="282.0" y="457.8" width="1.1" height="1.1" fill="#f0c8d0" opacity="0.34"/><rect x="385.3" y="457.9" width="1.1" height="1.1" fill="#d0d4f8" opacity="0.40"/><rect x="360.8" y="457.1" width="1.1" height="1.1" fill="#d0d4f8" opacity="0.23"/><rect x="277.9" y="457.8" width="1.1" height="1.1" fill="#d0d4f8" opacity="0.32"/><rect x="326.7" y="456.7" width="1.1" height="1.1" fill="#f0c8d0" opacity="0.31"/><rect x="366.2" y="457.4" width="1.1" height="1.1" fill="#b8c0f0" opacity="0.37"/><rect x="378.3" y="457.2" width="1.1" height="1.1" fill="#b8c0f0" opacity="0.28"/></g>
<g><rect x="316.4" y="456.0" width="1.0" height="1.0" fill="#e0e4f8" opacity="0.27"/><rect x="349.3" y="458.0" width="1.0" height="1.0" fill="#e0e4f8" opacity="0.21"/><rect x="353.8" y="461.2" width="1.0" height="1.0" fill="#e0e4f8" opacity="0.14"/><rect x="318.9" y="454.7" width="1.0" height="1.0" fill="#e0e4f8" opacity="0.17"/><rect x="384.6" y="458.8" width="1.0" height="1.0" fill="#e0e4f8" opacity="0.19"/><rect x="316.6" y="454.9" width="1.0" height="1.0" fill="#e0e4f8" opacity="0.23"/><rect x="288.4" y="457.6" width="1.0" height="1.0" fill="#e0e4f8" opacity="0.24"/><rect x="343.4" y="458.6" width="1.0" height="1.0" fill="#e0e4f8" opacity="0.15"/><rect x="355.3" y="457.2" width="1.0" height="1.0" fill="#e0e4f8" opacity="0.13"/><rect x="282.1" y="460.8" width="1.0" height="1.0" fill="#e0e4f8" opacity="0.13"/><rect x="383.5" y="457.3" width="1.0" height="1.0" fill="#e0e4f8" opacity="0.28"/><rect x="330.9" y="458.1" width="1.0" height="1.0" fill="#f8e0e4" opacity="0.15"/><rect x="316.8" y="457.7" width="1.0" height="1.0" fill="#e0e4f8" opacity="0.19"/><rect x="276.7" y="460.0" width="1.0" height="1.0" fill="#e0e4f8" opacity="0.29"/><rect x="343.8" y="459.4" width="1.0" height="1.0" fill="#e0e4f8" opacity="0.23"/><rect x="348.6" y="453.4" width="1.0" height="1.0" fill="#e0e4f8" opacity="0.25"/><rect x="288.0" y="455.7" width="1.0" height="1.0" fill="#e0e4f8" opacity="0.12"/><rect x="346.2" y="459.0" width="1.0" height="1.0" fill="#e0e4f8" opacity="0.20"/><rect x="362.4" y="453.9" width="1.0" height="1.0" fill="#e0e4f8" opacity="0.28"/><rect x="274.9" y="456.0" width="1.0" height="1.0" fill="#e0e4f8" opacity="0.13"/></g>
<line x1="366" y1="457.0" x2="375" y2="457.6" stroke="#f07080" stroke-width="1" opacity="0.6"/>
<path d="M376,457.3 L379,459.3 L382,456.8" stroke="#8088e0" stroke-width="0.8" fill="none" opacity="0.5"/>
<rect x="386.3" y="371.6" width="80" height="2" fill="url(#gRedLine)"/>
<rect x="386.3" y="456.4" width="80" height="2" fill="url(#gBlueLine)"/>
<circle cx="425.8" cy="376.6" r="1.9" fill="#111"/>
<line x1="425.8" y1="376.6" x2="425.8" y2="389" stroke="#111" stroke-width="1.1"/>
<path d="M423.9,387.5 L427.7,387.5 L425.8,392.5 Z" fill="#111"/>
<circle cx="425.8" cy="453.8" r="1.9" fill="#111"/>
<line x1="425.8" y1="453.8" x2="425.8" y2="441" stroke="#111" stroke-width="1.1"/>
<path d="M423.9,442.5 L427.7,442.5 L425.8,437.5 Z" fill="#111"/>
<path d="M408.3,409.3 C407.2,407.6 405.3,408.2 404.8,410.4 L403.4,416.6 C402.9,418.9 401.3,419.3 400.1,418.1" fill="none" stroke="#000" stroke-width="1.25" stroke-linecap="round"/>
<path d="M410,415.4 V420 M407.2,420.3 H412.8" stroke="#000" stroke-width="0.9" fill="none"/>
<path d="M416.3,411.6 H423 M416.3,414.2 H423" stroke="#000" stroke-width="0.9" fill="none"/>
<text x="425.8" y="416.9" font-size="11.5">-</text>
<text x="429.8" y="416.9" font-size="11.5" font-style="italic">e</text>
<text x="435.2" y="416.9" font-size="11.8" font-weight="bold">E</text>
<text x="443.2" y="420.8" font-size="9">eff</text>
<path d="M269.0,346.5 H471.5 V483.5" fill="none" stroke="#5a5a5a" stroke-width="1.05"/>
<path d="M269.5,346.0 V483.5 H472.0" fill="none" stroke="#000" stroke-width="1.1"/>
<rect x="281" y="383.5" width="5" height="62.5" fill="url(#bwrv)"/>
<text x="290" y="391" font-size="10.5" text-anchor="start" >1</text>
<text x="289.5" y="419.5" font-size="10.5" text-anchor="start" >0</text>
<text x="287.5" y="449" font-size="10.5" text-anchor="start" >-1</text>
<text x="0" y="0" font-size="11.4" text-anchor="middle" transform="translate(310.7,414.5) rotate(-90)"><tspan font-style="italic">E</tspan><tspan font-size="8.5" dy="3">eff</tspan><tspan dy="-3"> [10</tspan><tspan font-size="8" dy="-4">13</tspan><tspan dy="4"> V/m]</tspan></text>
<text x="456.9" y="476.7" font-size="24.5" text-anchor="middle" >(e)</text>
<text x="271.1" y="501.2" font-size="15.5" text-anchor="middle" >-10</text>
<text x="369.8" y="501.2" font-size="15.5" text-anchor="middle" >-5</text>
<text x="469.5" y="501.2" font-size="15.5" text-anchor="middle" >0</text>
<text x="371" y="516.2" font-size="17" text-anchor="middle" >ξ [μm]</text>
<line x1="77.9" y1="671" x2="77.9" y2="534" stroke="#ff1a1a" stroke-width="1.5" stroke-dasharray="4.3,4.8"/>
<line x1="197.6" y1="671" x2="197.6" y2="534" stroke="#ff1a1a" stroke-width="1.5" stroke-dasharray="4.3,4.8"/>
<path d="M38.0,602.6 L44.0,603.2 L50.0,603.5 L58.0,603.8 L65.0,603.0 L69.5,602.5 L71.7,604.7 L72.7,600.0 L74.3,591.0 L75.5,570.0 L76.6,550.0 L77.4,534.7 L79.5,538.4 L82.1,540.0 L86.3,542.1 L91.6,545.3 L96.8,549.5 L102.1,554.2 L106.4,558.9 L112.7,566.5 L119.1,575.4 L125.4,583.7 L131.8,592.0 L135.6,598.3 L138.1,603.4 L142.0,609.7 L150.8,622.5 L155.0,628.3 L161.3,637.2 L167.6,644.7 L173.9,651.0 L180.3,657.4 L186.6,661.8 L192.9,664.6 L195.4,665.6 L196.7,668.1 L197.7,670.9 L198.6,665.6 L199.8,647.9 L201.1,629.0 L201.6,610.0 L202.3,603.0 L203.5,600.5 L205.8,603.2 L210.0,602.3 L220.0,601.4 L230.0,602.0 L238.0,602.5" fill="none" stroke="#0a14ff" stroke-width="1.8" stroke-linejoin="round"/>
<path d="M38.0,602.8 L50.0,603.0 L60.0,603.0 L69.6,602.8 L71.5,600.0 L73.0,590.0 L75.0,565.0 L76.8,545.0 L78.0,537.0 L80.0,534.7 L85.3,537.9 L91.6,542.1 L96.8,546.3 L102.1,551.0 L107.4,556.3 L112.7,563.0 L119.1,572.5 L125.4,582.0 L131.8,591.5 L138.1,602.0 L145.0,613.0 L150.8,622.0 L155.0,630.8 L161.3,640.3 L167.6,647.9 L173.9,654.2 L180.3,660.5 L186.6,665.6 L192.9,669.4 L196.7,670.9 L198.3,669.0 L199.0,660.0 L199.8,640.0 L200.5,615.0 L201.5,607.0 L203.7,604.2 L210.0,603.5 L238.0,603.0" fill="none" stroke="#000" stroke-width="1.7" stroke-dasharray="1.5,1.5"/>
<path d="M37.0,534.5 H238.5 V671" fill="none" stroke="#000" stroke-width="1.05"/>
<path d="M37.5,534.0 V671 H239.0" fill="none" stroke="#000" stroke-width="1.1"/>
<line x1="88" y1="671" x2="88" y2="668.5" stroke="#222" stroke-width="1"/>
<line x1="88" y1="534" x2="88" y2="536.5" stroke="#222" stroke-width="1"/>
<line x1="138" y1="671" x2="138" y2="668.5" stroke="#222" stroke-width="1"/>
<line x1="138" y1="534" x2="138" y2="536.5" stroke="#222" stroke-width="1"/>
<line x1="188" y1="671" x2="188" y2="668.5" stroke="#222" stroke-width="1"/>
<line x1="188" y1="534" x2="188" y2="536.5" stroke="#222" stroke-width="1"/>
<rect x="125.6" y="539.2" width="106.8" height="32" fill="#fff" stroke="#222" stroke-width="1"/>
<line x1="129" y1="545.4" x2="146.8" y2="545.4" stroke="#0a14ff" stroke-width="1.8"/>
<line x1="129" y1="564.8" x2="146.8" y2="564.8" stroke="#000" stroke-width="2" stroke-dasharray="2,2"/>
<text x="149.3" y="549" font-size="11.3" text-anchor="start" >Simulation results</text>
<text x="150" y="567" font-size="11.3" text-anchor="start" >Analytical results</text>
<text x="52" y="555" font-size="24.5" text-anchor="middle" >(f)</text>
<text x="32.8" y="543" font-size="15" text-anchor="end" >1</text>
<text x="31.2" y="607.8" font-size="15" text-anchor="end" >0</text>
<text x="32.6" y="673.3" font-size="15" text-anchor="end" >-1</text>
<text x="0" y="0" font-size="18" text-anchor="middle" transform="translate(14.2,602.5) rotate(-90)"><tspan font-style="italic">B</tspan><tspan font-size="12" dy="4.5">θ</tspan><tspan dy="-4.5"> [a.u.]</tspan></text>
<text x="37.9" y="686.5" font-size="15.5" text-anchor="middle" >-3</text>
<text x="137.3" y="686.3" font-size="15.5" text-anchor="middle" >0</text>
<text x="237" y="686.6" font-size="15.5" text-anchor="middle" >3</text>
<text x="137.6" y="702.6" font-size="17" text-anchor="middle" ><tspan font-style="italic">y</tspan> [μm]</text>
<path d="M269.0,534.5 H471.5 V671" fill="none" stroke="#000" stroke-width="1.05"/>
<path d="M269.5,534.0 V671 H472.0" fill="none" stroke="#000" stroke-width="1.1"/>
<path d="M270.0,671.0 L272.0,671.0 L274.0,671.0 L276.0,671.0 L278.0,671.0 L280.0,671.0 L282.0,671.0 L284.0,671.0 L286.0,671.0 L288.0,671.0 L290.0,671.0 L292.0,671.0 L294.0,671.0 L296.0,671.0 L298.0,671.0 L300.0,671.0 L302.0,671.0 L304.0,671.0 L306.0,671.0 L308.0,671.0 L310.0,671.0 L312.0,671.0 L314.0,671.0 L316.0,671.0 L318.0,671.0 L320.0,671.0 L322.0,671.0 L324.0,671.0 L326.0,671.0 L328.0,671.0 L330.0,671.0 L332.0,671.0 L334.0,671.0 L336.0,671.0 L338.0,671.0 L340.0,671.0 L342.0,671.0 L344.0,671.0 L346.0,671.0 L348.0,671.0 L350.0,671.0 L352.0,671.0 L354.0,671.0 L356.0,671.0 L358.0,671.0 L360.0,671.0 L362.0,671.0 L364.0,671.0 L366.0,671.0 L368.0,671.0 L370.0,671.0 L372.0,671.0 L374.0,671.0 L376.0,671.0 L378.0,671.0 L380.0,671.0 L382.0,671.0 L384.0,671.0 L386.0,671.0 L388.0,671.0 L390.0,671.0 L392.0,671.0 L394.0,671.0 L396.0,671.0 L398.0,671.0 L400.0,671.0 L402.0,671.0 L404.0,671.0 L406.0,671.0 L406.5,671.0 L407.0,671.0 L407.5,671.0 L408.0,671.0 L408.5,671.0 L409.0,671.0 L409.5,671.0 L410.0,671.0 L410.5,671.0 L411.0,671.0 L411.5,671.0 L412.0,671.0 L412.5,671.0 L413.0,671.0 L413.5,671.0 L414.0,670.9 L414.5,670.9 L415.0,670.9 L415.5,670.9 L416.0,670.9 L416.5,670.9 L417.0,670.9 L417.5,670.9 L418.0,670.9 L418.5,670.9 L419.0,670.9 L419.5,670.9 L420.0,670.9 L420.5,670.9 L421.0,670.9 L421.5,670.8 L422.0,670.8 L422.5,670.8 L423.0,670.7 L423.5,670.6 L424.0,670.4 L424.5,670.2 L425.0,669.9 L425.5,669.3 L426.0,668.6 L426.5,667.5 L427.0,666.0 L427.5,664.0 L428.0,661.3 L428.5,657.9 L429.0,653.5 L429.5,648.2 L430.0,641.8 L430.5,634.3 L431.0,625.9 L431.5,616.7 L432.0,606.8 L432.5,596.8 L433.0,586.9 L433.5,577.6 L434.0,569.4 L434.5,562.7 L435.0,557.9 L435.5,555.3 L436.0,555.0 L436.5,556.8 L437.0,561.1 L437.5,567.8 L438.0,576.7 L438.5,587.3 L439.0,598.8 L439.5,610.6 L440.0,622.1 L440.5,632.6 L441.0,641.8 L441.5,649.6 L442.0,655.8 L442.5,660.6 L443.0,664.1 L443.5,666.6 L444.0,668.3 L444.5,669.4 L445.0,670.1 L445.5,670.5 L446.0,670.7 L446.5,670.9 L447.0,670.9 L447.5,671.0 L448.0,671.0 L448.5,671.0 L449.0,671.0 L449.5,671.0 L450.0,671.0 L450.5,671.0 L451.0,671.0 L451.5,671.0 L452.0,671.0 L452.5,671.0 L453.0,671.0 L453.5,671.0 L454.0,671.0 L454.5,671.0 L455.0,671.0 L455.5,671.0 L456.0,671.0 L456.5,671.0 L457.0,671.0 L457.5,671.0 L458.0,671.0 L458.5,671.0 L459.0,671.0 L459.5,671.0 L460.0,671.0 L460.5,671.0 L461.0,671.0 L461.5,671.0 L462.0,671.0 L462.5,671.0 L463.0,671.0 L463.5,671.0 L464.0,671.0 L464.5,671.0 L465.0,671.0 L465.5,671.0 L466.0,671.0 L468.0,671.0 L470.0,671.0" fill="none" stroke="#000" stroke-width="1.8"/>
<path d="M270.0,671.0 L272.0,671.0 L274.0,671.0 L276.0,671.0 L278.0,671.0 L280.0,671.0 L282.0,671.0 L284.0,671.0 L286.0,671.0 L288.0,671.0 L290.0,671.0 L292.0,671.0 L294.0,671.0 L296.0,671.0 L298.0,671.0 L300.0,671.0 L302.0,671.0 L304.0,671.0 L306.0,671.0 L308.0,671.0 L310.0,671.0 L312.0,671.0 L314.0,671.0 L316.0,671.0 L318.0,671.0 L320.0,671.0 L322.0,671.0 L324.0,671.0 L326.0,671.0 L328.0,671.0 L330.0,671.0 L332.0,671.0 L334.0,671.0 L336.0,671.0 L338.0,671.0 L340.0,671.0 L342.0,671.0 L344.0,671.0 L346.0,671.0 L348.0,671.0 L350.0,671.0 L352.0,671.0 L354.0,671.0 L356.0,671.0 L358.0,671.0 L360.0,671.0 L362.0,671.0 L364.0,671.0 L366.0,671.0 L368.0,671.0 L370.0,671.0 L372.0,671.0 L374.0,671.0 L376.0,671.0 L378.0,671.0 L380.0,671.0 L382.0,671.0 L384.0,671.0 L386.0,671.0 L388.0,671.0 L390.0,671.0 L392.0,671.0 L394.0,671.0 L396.0,670.9 L398.0,670.9 L400.0,670.9 L402.0,670.9 L404.0,670.9 L406.0,670.8 L406.5,670.8 L407.0,670.8 L407.5,670.8 L408.0,670.8 L408.5,670.7 L409.0,670.7 L409.5,670.7 L410.0,670.7 L410.5,670.6 L411.0,670.6 L411.5,670.5 L412.0,670.4 L412.5,670.4 L413.0,670.3 L413.5,670.2 L414.0,670.1 L414.5,669.9 L415.0,669.8 L415.5,669.6 L416.0,669.3 L416.5,669.1 L417.0,668.8 L417.5,668.5 L418.0,668.1 L418.5,667.7 L419.0,667.2 L419.5,666.6 L420.0,666.0 L420.5,665.3 L421.0,664.5 L421.5,663.6 L422.0,662.5 L422.5,661.4 L423.0,660.1 L423.5,658.7 L424.0,657.1 L424.5,655.3 L425.0,653.4 L425.5,651.2 L426.0,648.9 L426.5,646.3 L427.0,643.6 L427.5,640.6 L428.0,637.3 L428.5,633.8 L429.0,630.1 L429.5,626.2 L430.0,622.0 L430.5,617.6 L431.0,613.1 L431.5,608.4 L432.0,603.6 L432.5,598.8 L433.0,594.3 L433.5,590.1 L434.0,586.6 L434.5,584.2 L435.0,583.4 L435.5,583.6 L436.0,584.5 L436.5,586.1 L437.0,588.5 L437.5,591.7 L438.0,595.8 L438.5,600.5 L439.0,605.8 L439.5,611.5 L440.0,617.5 L440.5,623.6 L441.0,629.6 L441.5,635.4 L442.0,640.9 L442.5,645.9 L443.0,650.5 L443.5,654.5 L444.0,657.9 L444.5,660.9 L445.0,663.3 L445.5,665.2 L446.0,666.7 L446.5,667.9 L447.0,668.8 L447.5,669.5 L448.0,670.0 L448.5,670.3 L449.0,670.5 L449.5,670.7 L450.0,670.8 L450.5,670.9 L451.0,670.9 L451.5,671.0 L452.0,671.0 L452.5,671.0 L453.0,671.0 L453.5,671.0 L454.0,671.0 L454.5,671.0 L455.0,671.0 L455.5,671.0 L456.0,671.0 L456.5,671.0 L457.0,671.0 L457.5,671.0 L458.0,671.0 L458.5,671.0 L459.0,671.0 L459.5,671.0 L460.0,671.0 L460.5,671.0 L461.0,671.0 L461.5,671.0 L462.0,671.0 L462.5,671.0 L463.0,671.0 L463.5,671.0 L464.0,671.0 L464.5,671.0 L465.0,671.0 L467.0,671.0 L469.0,671.0 L471.0,671.0" fill="none" stroke="#f00000" stroke-width="1.8"/>
<path d="M270.0,671.0 L272.0,671.0 L274.0,671.0 L276.0,671.0 L278.0,671.0 L280.0,671.0 L282.0,671.0 L284.0,671.0 L286.0,671.0 L288.0,671.0 L290.0,671.0 L292.0,671.0 L294.0,671.0 L296.0,671.0 L298.0,671.0 L300.0,671.0 L302.0,671.0 L304.0,671.0 L306.0,671.0 L308.0,671.0 L310.0,671.0 L312.0,671.0 L314.0,671.0 L316.0,671.0 L318.0,671.0 L320.0,671.0 L322.0,671.0 L324.0,671.0 L326.0,671.0 L328.0,671.0 L330.0,671.0 L332.0,671.0 L334.0,671.0 L336.0,671.0 L338.0,671.0 L340.0,671.0 L342.0,671.0 L344.0,671.0 L346.0,670.9 L348.0,670.9 L350.0,670.9 L352.0,670.9 L354.0,670.9 L356.0,670.9 L358.0,670.9 L360.0,670.8 L362.0,670.8 L364.0,670.8 L366.0,670.7 L368.0,670.7 L370.0,670.6 L372.0,670.6 L374.0,670.5 L376.0,670.4 L378.0,670.3 L380.0,670.2 L382.0,670.1 L384.0,669.9 L386.0,669.7 L388.0,669.5 L390.0,669.2 L392.0,668.9 L394.0,668.6 L396.0,668.1 L398.0,667.6 L400.0,667.1 L402.0,666.4 L404.0,665.6 L406.0,664.6 L406.5,664.4 L407.0,664.1 L407.5,663.8 L408.0,663.5 L408.5,663.2 L409.0,662.9 L409.5,662.6 L410.0,662.2 L410.5,661.9 L411.0,661.5 L411.5,661.1 L412.0,660.7 L412.5,660.3 L413.0,659.9 L413.5,659.4 L414.0,659.0 L414.5,658.5 L415.0,658.0 L415.5,657.4 L416.0,656.9 L416.5,656.3 L417.0,655.7 L417.5,655.1 L418.0,654.4 L418.5,653.8 L419.0,653.1 L419.5,652.3 L420.0,651.6 L420.5,650.8 L421.0,650.0 L421.5,649.1 L422.0,648.3 L422.5,647.3 L423.0,646.4 L423.5,645.4 L424.0,644.4 L424.5,643.3 L425.0,642.2 L425.5,641.0 L426.0,639.8 L426.5,638.6 L427.0,637.3 L427.5,636.0 L428.0,634.6 L428.5,633.2 L429.0,631.7 L429.5,630.1 L430.0,628.6 L430.5,627.0 L431.0,625.3 L431.5,623.6 L432.0,622.0 L432.5,620.3 L433.0,618.6 L433.5,617.1 L434.0,615.7 L434.5,614.6 L435.0,613.9 L435.5,613.7 L436.0,613.9 L436.5,614.3 L437.0,615.3 L437.5,616.7 L438.0,618.6 L438.5,621.0 L439.0,623.9 L439.5,627.1 L440.0,630.7 L440.5,634.5 L441.0,638.4 L441.5,642.3 L442.0,646.2 L442.5,649.9 L443.0,653.3 L443.5,656.4 L444.0,659.2 L444.5,661.6 L445.0,663.7 L445.5,665.4 L446.0,666.8 L446.5,667.9 L447.0,668.8 L447.5,669.4 L448.0,669.9 L448.5,670.3 L449.0,670.5 L449.5,670.7 L450.0,670.8 L450.5,670.9 L451.0,670.9 L451.5,671.0 L452.0,671.0 L452.5,671.0 L453.0,671.0 L453.5,671.0 L454.0,671.0 L454.5,671.0 L455.0,671.0 L455.5,671.0 L456.0,671.0 L456.5,671.0 L457.0,671.0 L457.5,671.0 L458.0,671.0 L458.5,671.0 L459.0,671.0 L459.5,671.0 L460.0,671.0 L460.5,671.0 L461.0,671.0 L461.5,671.0 L462.0,671.0 L462.5,671.0 L463.0,671.0 L463.5,671.0 L464.0,671.0 L464.5,671.0 L465.0,671.0 L465.5,671.0 L467.5,671.0 L469.5,671.0" fill="none" stroke="#0a14f0" stroke-width="1.8"/>
<line x1="303.1" y1="671" x2="303.1" y2="668.5" stroke="#222" stroke-width="1"/>
<line x1="336.7" y1="671" x2="336.7" y2="668.5" stroke="#222" stroke-width="1"/>
<line x1="370.3" y1="671" x2="370.3" y2="668.5" stroke="#222" stroke-width="1"/>
<line x1="403.9" y1="671" x2="403.9" y2="668.5" stroke="#222" stroke-width="1"/>
<line x1="437.5" y1="671" x2="437.5" y2="668.5" stroke="#222" stroke-width="1"/>
<line x1="269.5" y1="568.3" x2="272" y2="568.3" stroke="#222" stroke-width="1"/>
<line x1="269.5" y1="602.6" x2="272" y2="602.6" stroke="#222" stroke-width="1"/>
<line x1="269.5" y1="636.9" x2="272" y2="636.9" stroke="#222" stroke-width="1"/>
<rect x="281" y="542.7" width="64.4" height="44.7" fill="#000"/>
<rect x="277.8" y="539.7" width="64.4" height="44.7" fill="#fff" stroke="#222" stroke-width="0.8"/>
<line x1="285" y1="546" x2="305.9" y2="546" stroke="#000" stroke-width="2"/>
<text x="310.8" y="548.9" font-size="11">5T<tspan font-size="7.5" dy="4.3">0</tspan></text>
<line x1="285" y1="560.9" x2="305.9" y2="560.9" stroke="#f00000" stroke-width="2"/>
<text x="310.8" y="564.3" font-size="11">150T<tspan font-size="7.5" dy="4.3">0</tspan></text>
<line x1="285" y1="576.3" x2="305.9" y2="576.3" stroke="#0a14f0" stroke-width="2"/>
<text x="310.8" y="579.6" font-size="11">200T<tspan font-size="7.5" dy="4.3">0</tspan></text>
<text x="456.2" y="554.2" font-size="24.5" text-anchor="middle" >(g)</text>
<text x="266.3" y="542.6" font-size="15" text-anchor="end" >1</text>
<text x="267.5" y="673.6" font-size="15" text-anchor="end" >0</text>
<text x="0" y="0" font-size="17" text-anchor="middle" transform="translate(261.8,602.5) rotate(-90)"><tspan font-style="italic">N</tspan><tspan font-size="12" font-style="italic" dy="4">b</tspan><tspan dy="-4"> [×10</tspan><tspan font-size="11.5" dy="-5.5">8</tspan><tspan dy="5.5">]</tspan></text>
<text x="270.6" y="686" font-size="15.5" text-anchor="middle" >0</text>
<text x="336.4" y="686" font-size="15.5" text-anchor="middle" >2</text>
<text x="403.7" y="686" font-size="15.5" text-anchor="middle" >4</text>
<text x="471" y="686" font-size="15.5" text-anchor="middle" >6</text>
<text x="371.3" y="702.8" font-size="16.2" text-anchor="middle" ><tspan font-style="italic">ε</tspan><tspan font-style="italic" font-size="11.5" dy="4">b</tspan><tspan dy="-4"> [GeV]</tspan></text>
</svg></body></html>
